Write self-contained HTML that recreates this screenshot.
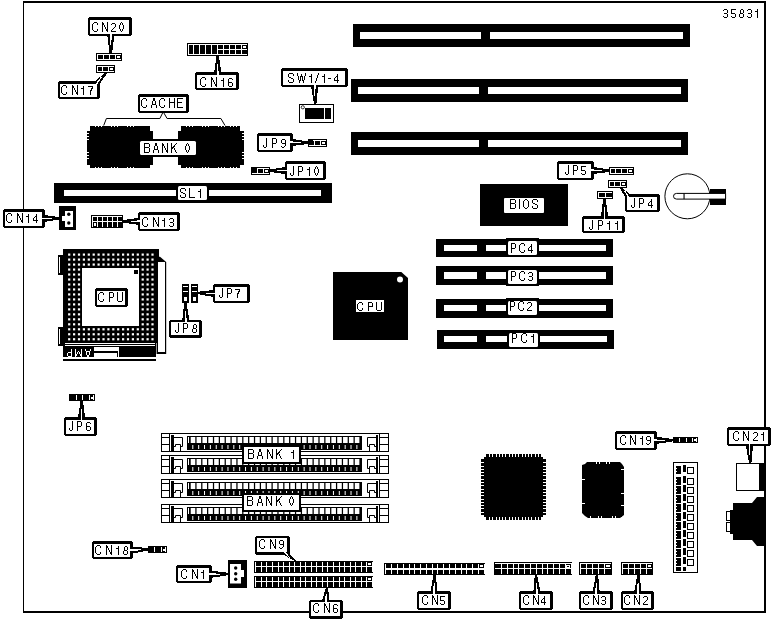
<!DOCTYPE html>
<html><head><meta charset="utf-8"><style>
html,body{margin:0;padding:0;background:#fff;overflow:hidden;}
svg{display:block;font-family:"Liberation Sans",sans-serif;}
</style></head><body>
<svg width="774" height="622" viewBox="0 0 774 622"><defs></defs><rect x="0" y="0" width="774" height="622" fill="#fff" />
<rect x="23" y="1" width="743" height="2" fill="#000" />
<rect x="23" y="1" width="1" height="612" fill="#000" />
<rect x="764" y="1" width="2" height="612" fill="#000" />
<rect x="23" y="611" width="743" height="2" fill="#000" />
<path d="M723.50,10.50 L724.50,9.50 L726.50,9.50 L727.50,10.50 L727.50,12.50 L726.50,13.50 L724.50,13.50 M726.50,13.50 L727.50,14.50 L727.50,16.50 L726.50,17.50 L724.50,17.50 L723.50,16.50 M735.50,9.50 L731.50,9.50 L731.50,13.50 L734.50,13.50 L735.50,14.50 L735.50,16.50 L734.50,17.50 L732.50,17.50 L731.50,16.50 M740.50,12.50 L740.50,10.50 L741.50,9.50 L742.50,9.50 L743.50,10.50 L743.50,12.50 L742.50,13.50 L740.50,13.50 L740.50,12.50 M740.50,13.50 L739.50,14.50 L739.50,16.50 L740.50,17.50 L742.50,17.50 L743.50,16.50 L743.50,14.50 L742.50,13.50 M747.50,10.50 L748.50,9.50 L750.50,9.50 L751.50,10.50 L751.50,12.50 L750.50,13.50 L748.50,13.50 M750.50,13.50 L751.50,14.50 L751.50,16.50 L750.50,17.50 L748.50,17.50 L747.50,16.50 M755.50,11.50 L757.50,11.50 M757.50,9.50 L757.50,17.50" fill="none" stroke="#000" stroke-width="1" stroke-linecap="square" stroke-linejoin="miter" stroke-miterlimit="1.5" shape-rendering="crispEdges"/>
<rect x="353" y="24" width="337" height="23" fill="#000" />
<rect x="360" y="32" width="323" height="7" fill="#fff" />
<rect x="481" y="32" width="9" height="7" fill="#000" />
<rect x="351" y="79" width="337" height="23" fill="#000" />
<rect x="358" y="87" width="323" height="7" fill="#fff" />
<rect x="479" y="87" width="9" height="7" fill="#000" />
<rect x="351" y="132" width="337" height="23" fill="#000" />
<rect x="358" y="140" width="323" height="7" fill="#fff" />
<rect x="479" y="140" width="9" height="7" fill="#000" />
<rect x="54" y="183" width="278" height="20" fill="#000" />
<rect x="64" y="190" width="257" height="6" fill="#fff" />
<rect x="176" y="186" width="33" height="14" fill="#000" />
<rect x="178" y="186" width="29" height="14" fill="#fff" rx="1.5"/>
<path d="M185.50,190.50 L185.50,189.50 L184.50,188.50 L181.50,188.50 L180.50,189.50 L180.50,191.50 L181.50,192.50 L184.50,193.50 L185.50,194.50 L185.50,196.50 L184.50,197.50 L181.50,197.50 L180.50,196.50 L180.50,195.50 M189.50,188.50 L189.50,197.50 L194.50,197.50 M198.50,191.50 L200.50,191.50 M200.50,189.50 L200.50,197.50" fill="none" stroke="#000" stroke-width="1" stroke-linecap="square" stroke-linejoin="miter" stroke-miterlimit="1.5" shape-rendering="crispEdges"/>
<rect x="436" y="239" width="177" height="18" fill="#000" />
<rect x="444" y="245" width="33" height="6" fill="#fff" />
<rect x="486" y="245" width="120" height="6" fill="#fff" />
<rect x="506" y="238" width="33" height="19" fill="#000" />
<rect x="508" y="241" width="29" height="14" fill="#fff" rx="1.5"/>
<path d="M511.50,252.50 L511.50,243.50 L514.50,243.50 L515.50,244.50 L515.50,247.50 L514.50,248.50 L511.50,248.50 M524.50,245.50 L524.50,244.50 L523.50,243.50 L521.50,243.50 L520.50,244.50 L519.50,245.50 L519.50,250.50 L520.50,251.50 L521.50,252.50 L523.50,252.50 L524.50,251.50 L524.50,250.50 M531.50,244.50 L531.50,252.50 M528.50,250.50 L532.50,250.50 M528.50,249.50 L528.50,248.50 L531.50,245.50" fill="none" stroke="#000" stroke-width="1" stroke-linecap="square" stroke-linejoin="miter" stroke-miterlimit="1.5" shape-rendering="crispEdges"/>
<rect x="436" y="266" width="177" height="19" fill="#000" />
<rect x="444" y="272" width="33" height="7" fill="#fff" />
<rect x="486" y="272" width="120" height="7" fill="#fff" />
<rect x="506" y="267" width="33" height="19" fill="#000" />
<rect x="508" y="270" width="29" height="14" fill="#fff" rx="1.5"/>
<path d="M511.50,280.50 L511.50,271.50 L514.50,271.50 L515.50,272.50 L515.50,275.50 L514.50,276.50 L511.50,276.50 M524.50,273.50 L524.50,272.50 L523.50,271.50 L521.50,271.50 L520.50,272.50 L519.50,273.50 L519.50,278.50 L520.50,279.50 L521.50,280.50 L523.50,280.50 L524.50,279.50 L524.50,278.50 M528.50,273.50 L529.50,272.50 L531.50,272.50 L532.50,273.50 L532.50,275.50 L531.50,276.50 L529.50,276.50 M531.50,276.50 L532.50,277.50 L532.50,279.50 L531.50,280.50 L529.50,280.50 L528.50,279.50" fill="none" stroke="#000" stroke-width="1" stroke-linecap="square" stroke-linejoin="miter" stroke-miterlimit="1.5" shape-rendering="crispEdges"/>
<rect x="436" y="299" width="177" height="19" fill="#000" />
<rect x="444" y="305" width="33" height="6" fill="#fff" />
<rect x="486" y="305" width="120" height="6" fill="#fff" />
<rect x="506" y="298" width="33" height="19" fill="#000" />
<rect x="508" y="301" width="29" height="14" fill="#fff" rx="1.5"/>
<path d="M510.50,310.50 L510.50,301.50 L513.50,301.50 L514.50,302.50 L514.50,305.50 L513.50,306.50 L510.50,306.50 M523.50,303.50 L523.50,302.50 L522.50,301.50 L520.50,301.50 L519.50,302.50 L518.50,303.50 L518.50,308.50 L519.50,309.50 L520.50,310.50 L522.50,310.50 L523.50,309.50 L523.50,308.50 M527.50,303.50 L528.50,302.50 L530.50,302.50 L531.50,303.50 L531.50,305.50 L527.50,309.50 L527.50,310.50 L531.50,310.50" fill="none" stroke="#000" stroke-width="1" stroke-linecap="square" stroke-linejoin="miter" stroke-miterlimit="1.5" shape-rendering="crispEdges"/>
<rect x="437" y="330" width="177" height="19" fill="#000" />
<rect x="444" y="336" width="33" height="6" fill="#fff" />
<rect x="486" y="336" width="121" height="6" fill="#fff" />
<rect x="507" y="330" width="33" height="19" fill="#000" />
<rect x="509" y="333" width="29" height="14" fill="#fff" rx="1.5"/>
<path d="M512.50,342.50 L512.50,333.50 L515.50,333.50 L516.50,334.50 L516.50,337.50 L515.50,338.50 L512.50,338.50 M526.50,335.50 L526.50,334.50 L525.50,333.50 L523.50,333.50 L522.50,334.50 L521.50,335.50 L521.50,340.50 L522.50,341.50 L523.50,342.50 L525.50,342.50 L526.50,341.50 L526.50,340.50 M531.50,336.50 L533.50,336.50 M533.50,334.50 L533.50,342.50" fill="none" stroke="#000" stroke-width="1" stroke-linecap="square" stroke-linejoin="miter" stroke-miterlimit="1.5" shape-rendering="crispEdges"/>
<rect x="480" y="184" width="88" height="42" fill="#000" />
<rect x="504" y="198" width="40" height="15" fill="#fff" rx="1"/>
<path d="M510.50,208.50 L510.50,199.50 L514.50,199.50 L515.50,200.50 L515.50,202.50 L514.50,203.50 L510.50,203.50 M514.50,203.50 L515.50,204.50 L515.50,207.50 L514.50,208.50 L510.50,208.50 M519.50,199.50 L519.50,208.50 M525.50,199.50 L523.50,201.50 L523.50,206.50 L525.50,208.50 L526.50,208.50 L528.50,206.50 L528.50,201.50 L526.50,199.50 L525.50,199.50 M537.50,201.50 L537.50,200.50 L536.50,199.50 L533.50,199.50 L532.50,200.50 L532.50,202.50 L533.50,203.50 L536.50,204.50 L537.50,205.50 L537.50,207.50 L536.50,208.50 L533.50,208.50 L532.50,207.50 L532.50,206.50" fill="none" stroke="#000" stroke-width="1" stroke-linecap="square" stroke-linejoin="miter" stroke-miterlimit="1.5" shape-rendering="crispEdges"/>
<polygon points="333.00,272.00 401.30,272.00 408.00,278.10 408.00,340.00 333.00,340.00" fill="#000"/>
<circle cx="400" cy="279.5" r="3" fill="#fff"/>
<rect x="356" y="300" width="28" height="12" fill="#fff" />
<path d="M362.50,304.50 L362.50,303.50 L361.50,302.50 L359.50,302.50 L358.50,303.50 L357.50,304.50 L357.50,308.50 L358.50,309.50 L359.50,310.50 L361.50,310.50 L362.50,309.50 L362.50,308.50 M368.50,310.50 L368.50,302.50 L371.50,302.50 L372.50,303.50 L372.50,306.50 L371.50,306.50 L368.50,306.50 M376.50,302.50 L376.50,309.50 L377.50,310.50 L380.50,310.50 L381.50,309.50 L381.50,302.50" fill="none" stroke="#000" stroke-width="1" stroke-linecap="square" stroke-linejoin="miter" stroke-miterlimit="1.5" shape-rendering="crispEdges"/>
<circle cx="687.4" cy="196.3" r="22.5" fill="#fff" stroke="#000" stroke-width="1"/>
<rect x="710" y="189" width="16" height="16" fill="#000" />
<path d="M676.6,193.4 L725.6,193.4 L725.6,199.1 L676.6,199.1 A3.1,2.85 0 0 1 676.6,193.4 Z" fill="#fff" stroke="#000" stroke-width="1"/>
<rect x="683.50" y="193.40" width="1.10" height="5.70" fill="#000" />
<rect x="87" y="126" width="66" height="42" fill="#000" />
<rect x="178" y="126" width="66" height="42" fill="#000" />
<rect x="150" y="139" width="31" height="18" fill="#000" />
<rect x="150" y="126" width="3" height="5" fill="#fff" />
<rect x="150" y="165" width="3" height="3" fill="#fff" />
<rect x="178" y="126" width="3" height="5" fill="#fff" />
<rect x="178" y="165" width="3" height="3" fill="#fff" />
<rect x="240" y="126" width="4" height="5" fill="#fff" />
<rect x="240" y="165" width="4" height="3" fill="#fff" />
<rect x="87" y="126" width="3" height="5" fill="#fff" />
<rect x="87" y="165" width="3" height="3" fill="#fff" />
<rect x="95" y="126" width="1" height="1" fill="#fff" />
<rect x="95" y="167" width="1" height="1" fill="#fff" />
<rect x="98" y="126" width="1" height="1" fill="#fff" />
<rect x="98" y="167" width="1" height="1" fill="#fff" />
<rect x="101" y="126" width="1" height="1" fill="#fff" />
<rect x="101" y="167" width="1" height="1" fill="#fff" />
<rect x="111" y="126" width="1" height="1" fill="#fff" />
<rect x="111" y="167" width="1" height="1" fill="#fff" />
<rect x="114" y="126" width="1" height="1" fill="#fff" />
<rect x="114" y="167" width="1" height="1" fill="#fff" />
<rect x="117" y="126" width="1" height="1" fill="#fff" />
<rect x="117" y="167" width="1" height="1" fill="#fff" />
<rect x="127" y="126" width="1" height="1" fill="#fff" />
<rect x="127" y="167" width="1" height="1" fill="#fff" />
<rect x="130" y="126" width="1" height="1" fill="#fff" />
<rect x="130" y="167" width="1" height="1" fill="#fff" />
<rect x="133" y="126" width="1" height="1" fill="#fff" />
<rect x="133" y="167" width="1" height="1" fill="#fff" />
<rect x="186" y="126" width="1" height="1" fill="#fff" />
<rect x="186" y="167" width="1" height="1" fill="#fff" />
<rect x="189" y="126" width="1" height="1" fill="#fff" />
<rect x="189" y="167" width="1" height="1" fill="#fff" />
<rect x="192" y="126" width="1" height="1" fill="#fff" />
<rect x="192" y="167" width="1" height="1" fill="#fff" />
<rect x="202" y="126" width="1" height="1" fill="#fff" />
<rect x="202" y="167" width="1" height="1" fill="#fff" />
<rect x="205" y="126" width="1" height="1" fill="#fff" />
<rect x="205" y="167" width="1" height="1" fill="#fff" />
<rect x="208" y="126" width="1" height="1" fill="#fff" />
<rect x="208" y="167" width="1" height="1" fill="#fff" />
<rect x="218" y="126" width="1" height="1" fill="#fff" />
<rect x="218" y="167" width="1" height="1" fill="#fff" />
<rect x="221" y="126" width="1" height="1" fill="#fff" />
<rect x="221" y="167" width="1" height="1" fill="#fff" />
<rect x="224" y="126" width="1" height="1" fill="#fff" />
<rect x="224" y="167" width="1" height="1" fill="#fff" />
<rect x="230" y="126" width="1" height="1" fill="#fff" />
<rect x="230" y="167" width="1" height="1" fill="#fff" />
<rect x="233" y="126" width="1" height="1" fill="#fff" />
<rect x="233" y="167" width="1" height="1" fill="#fff" />
<rect x="236" y="126" width="1" height="1" fill="#fff" />
<rect x="236" y="167" width="1" height="1" fill="#fff" />
<rect x="87" y="133" width="2" height="1" fill="#fff" />
<rect x="242" y="133" width="2" height="1" fill="#fff" />
<rect x="87" y="136" width="2" height="1" fill="#fff" />
<rect x="242" y="136" width="2" height="1" fill="#fff" />
<rect x="87" y="139" width="2" height="1" fill="#fff" />
<rect x="242" y="139" width="2" height="1" fill="#fff" />
<rect x="87" y="152" width="2" height="1" fill="#fff" />
<rect x="242" y="152" width="2" height="1" fill="#fff" />
<rect x="87" y="155" width="2" height="1" fill="#fff" />
<rect x="242" y="155" width="2" height="1" fill="#fff" />
<rect x="87" y="158" width="2" height="1" fill="#fff" />
<rect x="242" y="158" width="2" height="1" fill="#fff" />
<rect x="140" y="141" width="56" height="14" fill="#fff" rx="1.5"/>
<path d="M144.50,152.50 L144.50,143.50 L148.50,143.50 L149.50,144.50 L149.50,146.50 L148.50,147.50 L144.50,147.50 M148.50,147.50 L149.50,148.50 L149.50,151.50 L148.50,152.50 L144.50,152.50 M153.50,152.50 L155.50,143.50 L156.50,143.50 L158.50,152.50 M154.50,149.50 L157.50,149.50 M162.50,152.50 L162.50,143.50 L167.50,152.50 L167.50,143.50 M171.50,143.50 L171.50,152.50 M176.50,143.50 L171.50,149.50 M173.50,147.50 L176.50,152.50 M187.50,143.50 L185.50,146.50 L185.50,149.50 L187.50,152.50 L189.50,149.50 L189.50,146.50 L187.50,143.50" fill="none" stroke="#000" stroke-width="1" stroke-linecap="square" stroke-linejoin="miter" stroke-miterlimit="1.5" shape-rendering="crispEdges"/>
<polyline points="103.7,125.5 106.4,118.5 159.9,118.5 163.2,111.8 167.1,118.5 220.9,118.5 225,125.5" fill="none" stroke="#000" stroke-width="1"/>
<rect x="96.5" y="53.5" width="25" height="7" rx="0" fill="#fff" stroke="#000" stroke-width="1"/>
<rect x="98" y="55" width="5" height="4" fill="#000" />
<rect x="104" y="55" width="5" height="4" fill="#000" />
<rect x="110" y="55" width="5" height="4" fill="#000" />
<rect x="116.5" y="55.5" width="4" height="3" rx="0" fill="#fff" stroke="#000" stroke-width="1"/>
<rect x="96.5" y="65.5" width="18" height="7" rx="0" fill="#fff" stroke="#000" stroke-width="1"/>
<rect x="98" y="67" width="4" height="4" fill="#000" />
<rect x="103" y="67" width="5" height="4" fill="#000" />
<rect x="109.5" y="67.5" width="4" height="3" rx="0" fill="#fff" stroke="#000" stroke-width="1"/>
<rect x="308.5" y="139.5" width="18" height="7" rx="0" fill="#fff" stroke="#000" stroke-width="1"/>
<rect x="310" y="141" width="4" height="4" fill="#000" />
<rect x="315" y="141" width="5" height="4" fill="#000" />
<rect x="321.5" y="141.5" width="4" height="3" rx="0" fill="#fff" stroke="#000" stroke-width="1"/>
<rect x="309" y="140" width="4" height="5" fill="#000" />
<rect x="251.5" y="167.5" width="18" height="7" rx="0" fill="#fff" stroke="#000" stroke-width="1"/>
<rect x="253" y="169" width="4" height="4" fill="#000" />
<rect x="258" y="169" width="5" height="4" fill="#000" />
<rect x="264.5" y="169.5" width="4" height="3" rx="0" fill="#fff" stroke="#000" stroke-width="1"/>
<rect x="252" y="168" width="5" height="5" fill="#000" />
<rect x="609.5" y="167.5" width="24" height="7" rx="0" fill="#fff" stroke="#000" stroke-width="1"/>
<rect x="611" y="169" width="4" height="4" fill="#000" />
<rect x="616" y="169" width="5" height="4" fill="#000" />
<rect x="622" y="169" width="5" height="4" fill="#000" />
<rect x="628.5" y="169.5" width="4" height="3" rx="0" fill="#fff" stroke="#000" stroke-width="1"/>
<rect x="608.5" y="180.5" width="18" height="7" rx="0" fill="#fff" stroke="#000" stroke-width="1"/>
<rect x="610" y="182" width="4" height="4" fill="#000" />
<rect x="615" y="182" width="5" height="4" fill="#000" />
<rect x="621.5" y="182.5" width="4" height="3" rx="0" fill="#fff" stroke="#000" stroke-width="1"/>
<rect x="597.5" y="191.5" width="15" height="7" rx="0" fill="#fff" stroke="#000" stroke-width="1"/>
<rect x="599" y="193" width="6" height="4" fill="#000" />
<rect x="606" y="193" width="6" height="4" fill="#000" />
<rect x="182" y="284" width="7" height="19" fill="#000" />
<rect x="183" y="286" width="5" height="1" fill="#fff" />
<rect x="183" y="291" width="5" height="1" fill="#fff" />
<rect x="184" y="297" width="3" height="4" fill="#fff" />
<rect x="191" y="284" width="7" height="19" fill="#000" />
<rect x="192" y="286" width="5" height="1" fill="#fff" />
<rect x="192" y="291" width="5" height="1" fill="#fff" />
<rect x="193" y="297" width="3" height="4" fill="#fff" />
<rect x="69" y="394" width="26" height="7" fill="#000" />
<rect x="76" y="395" width="1" height="5" fill="#fff" />
<rect x="82" y="395" width="1" height="5" fill="#fff" />
<rect x="89" y="395" width="1" height="5" fill="#fff" />
<rect x="93" y="395" width="1" height="5" fill="#fff" />
<rect x="91" y="397" width="2" height="2" fill="#fff" />
<rect x="148" y="546" width="19" height="7" fill="#000" />
<rect x="154" y="547" width="1" height="5" fill="#fff" />
<rect x="161" y="547" width="1" height="5" fill="#fff" />
<rect x="165" y="547" width="1" height="5" fill="#fff" />
<rect x="163" y="549" width="2" height="2" fill="#fff" />
<rect x="673" y="437" width="25" height="6" fill="#000" />
<rect x="679" y="438" width="1" height="4" fill="#fff" />
<rect x="686" y="438" width="1" height="4" fill="#fff" />
<rect x="692" y="438" width="1" height="4" fill="#fff" />
<rect x="696" y="438" width="1" height="4" fill="#fff" />
<rect x="694" y="439" width="2" height="2" fill="#fff" />
<rect x="187.5" y="43.5" width="60" height="12" rx="0" fill="#fff" stroke="#000" stroke-width="1"/>
<rect x="189" y="45" width="4" height="9" fill="#000" />
<rect x="194" y="45" width="5" height="9" fill="#000" />
<rect x="200" y="45" width="5" height="9" fill="#000" />
<rect x="206" y="45" width="5" height="9" fill="#000" />
<rect x="212" y="45" width="5" height="9" fill="#000" />
<rect x="218" y="45" width="5" height="4" fill="#000" />
<rect x="218" y="50" width="5" height="4" fill="#000" />
<rect x="224" y="45" width="5" height="4" fill="#000" />
<rect x="224" y="50" width="5" height="4" fill="#000" />
<rect x="230" y="45" width="5" height="4" fill="#000" />
<rect x="230" y="50" width="5" height="4" fill="#000" />
<rect x="236" y="45" width="5" height="4" fill="#000" />
<rect x="236" y="50" width="5" height="4" fill="#000" />
<rect x="242.5" y="45.5" width="4" height="3" rx="0" fill="#fff" stroke="#000" stroke-width="1"/>
<rect x="242" y="50" width="5" height="4" fill="#000" />
<rect x="91.5" y="215.5" width="31" height="12" rx="0" fill="#fff" stroke="#000" stroke-width="1"/>
<rect x="93" y="217" width="4" height="4" fill="#000" />
<rect x="93.5" y="222.5" width="3" height="4" rx="0" fill="#fff" stroke="#000" stroke-width="1"/>
<rect x="98" y="217" width="4" height="4" fill="#000" />
<rect x="98" y="222" width="4" height="5" fill="#000" />
<rect x="103" y="217" width="4" height="4" fill="#000" />
<rect x="103" y="222" width="4" height="5" fill="#000" />
<rect x="108" y="217" width="4" height="4" fill="#000" />
<rect x="108" y="222" width="4" height="5" fill="#000" />
<rect x="113" y="217" width="4" height="4" fill="#000" />
<rect x="113" y="222" width="4" height="5" fill="#000" />
<rect x="118" y="217" width="4" height="4" fill="#000" />
<rect x="118" y="222" width="4" height="5" fill="#000" />
<rect x="579.5" y="562.5" width="32" height="12" rx="0" fill="#fff" stroke="#000" stroke-width="1"/>
<rect x="581" y="564" width="5" height="4" fill="#000" />
<rect x="581" y="569" width="5" height="5" fill="#000" />
<rect x="587" y="564" width="5" height="4" fill="#000" />
<rect x="587" y="569" width="5" height="5" fill="#000" />
<rect x="593" y="564" width="5" height="4" fill="#000" />
<rect x="593" y="569" width="5" height="5" fill="#000" />
<rect x="599" y="564" width="5" height="4" fill="#000" />
<rect x="599" y="569" width="5" height="5" fill="#000" />
<rect x="605.5" y="564.5" width="5" height="3" rx="0" fill="#fff" stroke="#000" stroke-width="1"/>
<rect x="605" y="569" width="6" height="5" fill="#000" />
<rect x="621.5" y="562.5" width="31" height="12" rx="0" fill="#fff" stroke="#000" stroke-width="1"/>
<rect x="623" y="564" width="5" height="4" fill="#000" />
<rect x="623" y="569" width="5" height="5" fill="#000" />
<rect x="629" y="564" width="5" height="4" fill="#000" />
<rect x="629" y="569" width="5" height="5" fill="#000" />
<rect x="635" y="564" width="5" height="4" fill="#000" />
<rect x="635" y="569" width="5" height="5" fill="#000" />
<rect x="641" y="564" width="5" height="4" fill="#000" />
<rect x="641" y="569" width="5" height="5" fill="#000" />
<rect x="647.5" y="564.5" width="4" height="3" rx="0" fill="#fff" stroke="#000" stroke-width="1"/>
<rect x="647" y="569" width="5" height="5" fill="#000" />
<rect x="384" y="563" width="101" height="12" fill="#000" />
<rect x="385" y="564" width="1" height="10" fill="#fff" />
<rect x="391" y="564" width="1" height="10" fill="#fff" />
<rect x="397" y="564" width="1" height="10" fill="#fff" />
<rect x="403" y="564" width="1" height="10" fill="#fff" />
<rect x="409" y="564" width="1" height="10" fill="#fff" />
<rect x="414" y="564" width="1" height="10" fill="#fff" />
<rect x="420" y="564" width="1" height="10" fill="#fff" />
<rect x="426" y="564" width="1" height="10" fill="#fff" />
<rect x="432" y="564" width="1" height="10" fill="#fff" />
<rect x="437" y="564" width="1" height="10" fill="#fff" />
<rect x="443" y="564" width="1" height="10" fill="#fff" />
<rect x="449" y="564" width="1" height="10" fill="#fff" />
<rect x="455" y="564" width="1" height="10" fill="#fff" />
<rect x="461" y="564" width="1" height="10" fill="#fff" />
<rect x="466" y="564" width="1" height="10" fill="#fff" />
<rect x="472" y="564" width="1" height="10" fill="#fff" />
<rect x="478" y="564" width="1" height="10" fill="#fff" />
<rect x="484" y="564" width="1" height="10" fill="#fff" />
<rect x="385" y="568" width="99" height="2" fill="#fff" />
<rect x="480" y="565" width="3" height="2" fill="#fff" />
<rect x="494" y="562" width="78" height="13" fill="#000" />
<rect x="495" y="563" width="76" height="1" fill="#fff" />
<rect x="501" y="563" width="1" height="11" fill="#fff" />
<rect x="507" y="563" width="1" height="11" fill="#fff" />
<rect x="513" y="563" width="1" height="11" fill="#fff" />
<rect x="518" y="563" width="1" height="11" fill="#fff" />
<rect x="524" y="563" width="1" height="11" fill="#fff" />
<rect x="530" y="563" width="1" height="11" fill="#fff" />
<rect x="536" y="563" width="1" height="11" fill="#fff" />
<rect x="542" y="563" width="1" height="11" fill="#fff" />
<rect x="547" y="563" width="1" height="11" fill="#fff" />
<rect x="553" y="563" width="1" height="11" fill="#fff" />
<rect x="559" y="563" width="1" height="11" fill="#fff" />
<rect x="565" y="563" width="1" height="11" fill="#fff" />
<rect x="571" y="563" width="1" height="11" fill="#fff" />
<rect x="495" y="568" width="76" height="1" fill="#fff" />
<rect x="566" y="565" width="4" height="3" fill="#fff" />
<rect x="567" y="566" width="2" height="1" fill="#000" />
<rect x="254" y="561" width="119" height="12" fill="#000" />
<rect x="255" y="562" width="1" height="10" fill="#fff" />
<rect x="261" y="562" width="1" height="10" fill="#fff" />
<rect x="266" y="562" width="1" height="10" fill="#fff" />
<rect x="272" y="562" width="1" height="10" fill="#fff" />
<rect x="278" y="562" width="1" height="10" fill="#fff" />
<rect x="283" y="562" width="1" height="10" fill="#fff" />
<rect x="289" y="562" width="1" height="10" fill="#fff" />
<rect x="294" y="562" width="1" height="10" fill="#fff" />
<rect x="300" y="562" width="1" height="10" fill="#fff" />
<rect x="305" y="562" width="1" height="10" fill="#fff" />
<rect x="311" y="562" width="1" height="10" fill="#fff" />
<rect x="316" y="562" width="1" height="10" fill="#fff" />
<rect x="322" y="562" width="1" height="10" fill="#fff" />
<rect x="327" y="562" width="1" height="10" fill="#fff" />
<rect x="333" y="562" width="1" height="10" fill="#fff" />
<rect x="339" y="562" width="1" height="10" fill="#fff" />
<rect x="344" y="562" width="1" height="10" fill="#fff" />
<rect x="350" y="562" width="1" height="10" fill="#fff" />
<rect x="355" y="562" width="1" height="10" fill="#fff" />
<rect x="361" y="562" width="1" height="10" fill="#fff" />
<rect x="366" y="562" width="1" height="10" fill="#fff" />
<rect x="372" y="562" width="1" height="10" fill="#fff" />
<rect x="255" y="566" width="117" height="1" fill="#fff" />
<rect x="368" y="563" width="3" height="2" fill="#fff" />
<rect x="254" y="576" width="119" height="12" fill="#000" />
<rect x="255" y="577" width="1" height="10" fill="#fff" />
<rect x="261" y="577" width="1" height="10" fill="#fff" />
<rect x="266" y="577" width="1" height="10" fill="#fff" />
<rect x="272" y="577" width="1" height="10" fill="#fff" />
<rect x="278" y="577" width="1" height="10" fill="#fff" />
<rect x="283" y="577" width="1" height="10" fill="#fff" />
<rect x="289" y="577" width="1" height="10" fill="#fff" />
<rect x="294" y="577" width="1" height="10" fill="#fff" />
<rect x="300" y="577" width="1" height="10" fill="#fff" />
<rect x="305" y="577" width="1" height="10" fill="#fff" />
<rect x="311" y="577" width="1" height="10" fill="#fff" />
<rect x="316" y="577" width="1" height="10" fill="#fff" />
<rect x="322" y="577" width="1" height="10" fill="#fff" />
<rect x="327" y="577" width="1" height="10" fill="#fff" />
<rect x="333" y="577" width="1" height="10" fill="#fff" />
<rect x="339" y="577" width="1" height="10" fill="#fff" />
<rect x="344" y="577" width="1" height="10" fill="#fff" />
<rect x="350" y="577" width="1" height="10" fill="#fff" />
<rect x="355" y="577" width="1" height="10" fill="#fff" />
<rect x="361" y="577" width="1" height="10" fill="#fff" />
<rect x="366" y="577" width="1" height="10" fill="#fff" />
<rect x="372" y="577" width="1" height="10" fill="#fff" />
<rect x="255" y="581" width="117" height="1" fill="#fff" />
<rect x="368" y="578" width="3" height="2" fill="#fff" />
<rect x="299.5" y="104.5" width="34" height="18" rx="0" fill="#fff" stroke="#000" stroke-width="1"/>
<rect x="305" y="108" width="19" height="11" fill="#000" />
<rect x="325" y="108" width="6" height="11" fill="#000" />
<circle cx="302.8" cy="107.3" r="1.6" fill="#fff" stroke="#000" stroke-width="0.8"/>
<rect x="59" y="206" width="17" height="24" fill="#000" />
<polygon points="65.00,211.00 73.00,211.00 73.00,227.00 65.00,227.00 65.00,221.00 62.00,221.00 62.00,216.00 65.00,216.00" fill="#fff"/>
<circle cx="68.8" cy="214.2" r="1.7" fill="#000"/><circle cx="68.8" cy="223" r="1.7" fill="#000"/>
<rect x="228" y="560" width="19" height="28" fill="#000" />
<polygon points="230.00,564.00 241.00,564.00 241.00,570.00 244.00,570.00 244.00,577.00 241.00,577.00 241.00,583.50 230.00,583.50" fill="#fff"/>
<circle cx="235.7" cy="568" r="1.7" fill="#000"/><circle cx="235.7" cy="573.7" r="1.7" fill="#000"/><circle cx="235.7" cy="579.3" r="1.7" fill="#000"/>
<rect x="58" y="255" width="6" height="20" fill="#000" />
<rect x="59" y="257" width="1" height="16" fill="#fff" />
<rect x="58" y="327" width="6" height="19" fill="#000" />
<rect x="59" y="329" width="1" height="15" fill="#fff" />
<rect x="63" y="249" width="96" height="94" fill="#000" />
<rect x="82" y="268" width="57" height="58" fill="#fff" />
<rect x="68.10" y="253.50" width="2.20" height="2.20" fill="#fff" />
<rect x="73.00" y="253.50" width="2.20" height="2.20" fill="#fff" />
<rect x="77.90" y="253.50" width="2.20" height="2.20" fill="#fff" />
<rect x="82.80" y="253.50" width="2.20" height="2.20" fill="#fff" />
<rect x="87.70" y="253.50" width="2.20" height="2.20" fill="#fff" />
<rect x="92.60" y="253.50" width="2.20" height="2.20" fill="#fff" />
<rect x="97.50" y="253.50" width="2.20" height="2.20" fill="#fff" />
<rect x="102.40" y="253.50" width="2.20" height="2.20" fill="#fff" />
<rect x="107.30" y="253.50" width="2.20" height="2.20" fill="#fff" />
<rect x="112.20" y="253.50" width="2.20" height="2.20" fill="#fff" />
<rect x="117.10" y="253.50" width="2.20" height="2.20" fill="#fff" />
<rect x="122.00" y="253.50" width="2.20" height="2.20" fill="#fff" />
<rect x="126.90" y="253.50" width="2.20" height="2.20" fill="#fff" />
<rect x="131.80" y="253.50" width="2.20" height="2.20" fill="#fff" />
<rect x="136.70" y="253.50" width="2.20" height="2.20" fill="#fff" />
<rect x="141.60" y="253.50" width="2.20" height="2.20" fill="#fff" />
<rect x="146.50" y="253.50" width="2.20" height="2.20" fill="#fff" />
<rect x="151.40" y="253.50" width="2.20" height="2.20" fill="#fff" />
<rect x="68.10" y="258.48" width="2.20" height="2.20" fill="#fff" />
<rect x="73.00" y="258.48" width="2.20" height="2.20" fill="#fff" />
<rect x="77.90" y="258.48" width="2.20" height="2.20" fill="#fff" />
<rect x="82.80" y="258.48" width="2.20" height="2.20" fill="#fff" />
<rect x="87.70" y="258.48" width="2.20" height="2.20" fill="#fff" />
<rect x="92.60" y="258.48" width="2.20" height="2.20" fill="#fff" />
<rect x="97.50" y="258.48" width="2.20" height="2.20" fill="#fff" />
<rect x="102.40" y="258.48" width="2.20" height="2.20" fill="#fff" />
<rect x="107.30" y="258.48" width="2.20" height="2.20" fill="#fff" />
<rect x="112.20" y="258.48" width="2.20" height="2.20" fill="#fff" />
<rect x="117.10" y="258.48" width="2.20" height="2.20" fill="#fff" />
<rect x="122.00" y="258.48" width="2.20" height="2.20" fill="#fff" />
<rect x="126.90" y="258.48" width="2.20" height="2.20" fill="#fff" />
<rect x="131.80" y="258.48" width="2.20" height="2.20" fill="#fff" />
<rect x="136.70" y="258.48" width="2.20" height="2.20" fill="#fff" />
<rect x="141.60" y="258.48" width="2.20" height="2.20" fill="#fff" />
<rect x="146.50" y="258.48" width="2.20" height="2.20" fill="#fff" />
<rect x="151.40" y="258.48" width="2.20" height="2.20" fill="#fff" />
<rect x="68.10" y="263.46" width="2.20" height="2.20" fill="#fff" />
<rect x="73.00" y="263.46" width="2.20" height="2.20" fill="#fff" />
<rect x="77.90" y="263.46" width="2.20" height="2.20" fill="#fff" />
<rect x="82.80" y="263.46" width="2.20" height="2.20" fill="#fff" />
<rect x="87.70" y="263.46" width="2.20" height="2.20" fill="#fff" />
<rect x="92.60" y="263.46" width="2.20" height="2.20" fill="#fff" />
<rect x="97.50" y="263.46" width="2.20" height="2.20" fill="#fff" />
<rect x="102.40" y="263.46" width="2.20" height="2.20" fill="#fff" />
<rect x="107.30" y="263.46" width="2.20" height="2.20" fill="#fff" />
<rect x="112.20" y="263.46" width="2.20" height="2.20" fill="#fff" />
<rect x="117.10" y="263.46" width="2.20" height="2.20" fill="#fff" />
<rect x="122.00" y="263.46" width="2.20" height="2.20" fill="#fff" />
<rect x="126.90" y="263.46" width="2.20" height="2.20" fill="#fff" />
<rect x="131.80" y="263.46" width="2.20" height="2.20" fill="#fff" />
<rect x="136.70" y="263.46" width="2.20" height="2.20" fill="#fff" />
<rect x="141.60" y="263.46" width="2.20" height="2.20" fill="#fff" />
<rect x="146.50" y="263.46" width="2.20" height="2.20" fill="#fff" />
<rect x="151.40" y="263.46" width="2.20" height="2.20" fill="#fff" />
<rect x="68.10" y="268.44" width="2.20" height="2.20" fill="#fff" />
<rect x="73.00" y="268.44" width="2.20" height="2.20" fill="#fff" />
<rect x="77.90" y="268.44" width="2.20" height="2.20" fill="#fff" />
<rect x="141.60" y="268.44" width="2.20" height="2.20" fill="#fff" />
<rect x="146.50" y="268.44" width="2.20" height="2.20" fill="#fff" />
<rect x="151.40" y="268.44" width="2.20" height="2.20" fill="#fff" />
<rect x="68.10" y="273.42" width="2.20" height="2.20" fill="#fff" />
<rect x="73.00" y="273.42" width="2.20" height="2.20" fill="#fff" />
<rect x="77.90" y="273.42" width="2.20" height="2.20" fill="#fff" />
<rect x="141.60" y="273.42" width="2.20" height="2.20" fill="#fff" />
<rect x="146.50" y="273.42" width="2.20" height="2.20" fill="#fff" />
<rect x="151.40" y="273.42" width="2.20" height="2.20" fill="#fff" />
<rect x="68.10" y="278.40" width="2.20" height="2.20" fill="#fff" />
<rect x="73.00" y="278.40" width="2.20" height="2.20" fill="#fff" />
<rect x="77.90" y="278.40" width="2.20" height="2.20" fill="#fff" />
<rect x="141.60" y="278.40" width="2.20" height="2.20" fill="#fff" />
<rect x="146.50" y="278.40" width="2.20" height="2.20" fill="#fff" />
<rect x="151.40" y="278.40" width="2.20" height="2.20" fill="#fff" />
<rect x="68.10" y="283.38" width="2.20" height="2.20" fill="#fff" />
<rect x="73.00" y="283.38" width="2.20" height="2.20" fill="#fff" />
<rect x="77.90" y="283.38" width="2.20" height="2.20" fill="#fff" />
<rect x="141.60" y="283.38" width="2.20" height="2.20" fill="#fff" />
<rect x="146.50" y="283.38" width="2.20" height="2.20" fill="#fff" />
<rect x="151.40" y="283.38" width="2.20" height="2.20" fill="#fff" />
<rect x="68.10" y="288.36" width="2.20" height="2.20" fill="#fff" />
<rect x="73.00" y="288.36" width="2.20" height="2.20" fill="#fff" />
<rect x="77.90" y="288.36" width="2.20" height="2.20" fill="#fff" />
<rect x="141.60" y="288.36" width="2.20" height="2.20" fill="#fff" />
<rect x="146.50" y="288.36" width="2.20" height="2.20" fill="#fff" />
<rect x="151.40" y="288.36" width="2.20" height="2.20" fill="#fff" />
<rect x="68.10" y="293.34" width="2.20" height="2.20" fill="#fff" />
<rect x="73.00" y="293.34" width="2.20" height="2.20" fill="#fff" />
<rect x="77.90" y="293.34" width="2.20" height="2.20" fill="#fff" />
<rect x="141.60" y="293.34" width="2.20" height="2.20" fill="#fff" />
<rect x="146.50" y="293.34" width="2.20" height="2.20" fill="#fff" />
<rect x="151.40" y="293.34" width="2.20" height="2.20" fill="#fff" />
<rect x="68.10" y="298.32" width="2.20" height="2.20" fill="#fff" />
<rect x="73.00" y="298.32" width="2.20" height="2.20" fill="#fff" />
<rect x="77.90" y="298.32" width="2.20" height="2.20" fill="#fff" />
<rect x="141.60" y="298.32" width="2.20" height="2.20" fill="#fff" />
<rect x="146.50" y="298.32" width="2.20" height="2.20" fill="#fff" />
<rect x="151.40" y="298.32" width="2.20" height="2.20" fill="#fff" />
<rect x="68.10" y="303.30" width="2.20" height="2.20" fill="#fff" />
<rect x="73.00" y="303.30" width="2.20" height="2.20" fill="#fff" />
<rect x="77.90" y="303.30" width="2.20" height="2.20" fill="#fff" />
<rect x="141.60" y="303.30" width="2.20" height="2.20" fill="#fff" />
<rect x="146.50" y="303.30" width="2.20" height="2.20" fill="#fff" />
<rect x="151.40" y="303.30" width="2.20" height="2.20" fill="#fff" />
<rect x="68.10" y="308.28" width="2.20" height="2.20" fill="#fff" />
<rect x="73.00" y="308.28" width="2.20" height="2.20" fill="#fff" />
<rect x="77.90" y="308.28" width="2.20" height="2.20" fill="#fff" />
<rect x="141.60" y="308.28" width="2.20" height="2.20" fill="#fff" />
<rect x="146.50" y="308.28" width="2.20" height="2.20" fill="#fff" />
<rect x="151.40" y="308.28" width="2.20" height="2.20" fill="#fff" />
<rect x="68.10" y="313.26" width="2.20" height="2.20" fill="#fff" />
<rect x="73.00" y="313.26" width="2.20" height="2.20" fill="#fff" />
<rect x="77.90" y="313.26" width="2.20" height="2.20" fill="#fff" />
<rect x="141.60" y="313.26" width="2.20" height="2.20" fill="#fff" />
<rect x="146.50" y="313.26" width="2.20" height="2.20" fill="#fff" />
<rect x="151.40" y="313.26" width="2.20" height="2.20" fill="#fff" />
<rect x="68.10" y="318.24" width="2.20" height="2.20" fill="#fff" />
<rect x="73.00" y="318.24" width="2.20" height="2.20" fill="#fff" />
<rect x="77.90" y="318.24" width="2.20" height="2.20" fill="#fff" />
<rect x="141.60" y="318.24" width="2.20" height="2.20" fill="#fff" />
<rect x="146.50" y="318.24" width="2.20" height="2.20" fill="#fff" />
<rect x="151.40" y="318.24" width="2.20" height="2.20" fill="#fff" />
<rect x="68.10" y="323.22" width="2.20" height="2.20" fill="#fff" />
<rect x="73.00" y="323.22" width="2.20" height="2.20" fill="#fff" />
<rect x="77.90" y="323.22" width="2.20" height="2.20" fill="#fff" />
<rect x="141.60" y="323.22" width="2.20" height="2.20" fill="#fff" />
<rect x="146.50" y="323.22" width="2.20" height="2.20" fill="#fff" />
<rect x="151.40" y="323.22" width="2.20" height="2.20" fill="#fff" />
<rect x="68.10" y="328.20" width="2.20" height="2.20" fill="#fff" />
<rect x="73.00" y="328.20" width="2.20" height="2.20" fill="#fff" />
<rect x="77.90" y="328.20" width="2.20" height="2.20" fill="#fff" />
<rect x="82.80" y="328.20" width="2.20" height="2.20" fill="#fff" />
<rect x="87.70" y="328.20" width="2.20" height="2.20" fill="#fff" />
<rect x="92.60" y="328.20" width="2.20" height="2.20" fill="#fff" />
<rect x="97.50" y="328.20" width="2.20" height="2.20" fill="#fff" />
<rect x="102.40" y="328.20" width="2.20" height="2.20" fill="#fff" />
<rect x="107.30" y="328.20" width="2.20" height="2.20" fill="#fff" />
<rect x="112.20" y="328.20" width="2.20" height="2.20" fill="#fff" />
<rect x="117.10" y="328.20" width="2.20" height="2.20" fill="#fff" />
<rect x="122.00" y="328.20" width="2.20" height="2.20" fill="#fff" />
<rect x="126.90" y="328.20" width="2.20" height="2.20" fill="#fff" />
<rect x="131.80" y="328.20" width="2.20" height="2.20" fill="#fff" />
<rect x="136.70" y="328.20" width="2.20" height="2.20" fill="#fff" />
<rect x="141.60" y="328.20" width="2.20" height="2.20" fill="#fff" />
<rect x="146.50" y="328.20" width="2.20" height="2.20" fill="#fff" />
<rect x="151.40" y="328.20" width="2.20" height="2.20" fill="#fff" />
<rect x="68.10" y="333.18" width="2.20" height="2.20" fill="#fff" />
<rect x="73.00" y="333.18" width="2.20" height="2.20" fill="#fff" />
<rect x="77.90" y="333.18" width="2.20" height="2.20" fill="#fff" />
<rect x="82.80" y="333.18" width="2.20" height="2.20" fill="#fff" />
<rect x="87.70" y="333.18" width="2.20" height="2.20" fill="#fff" />
<rect x="92.60" y="333.18" width="2.20" height="2.20" fill="#fff" />
<rect x="97.50" y="333.18" width="2.20" height="2.20" fill="#fff" />
<rect x="102.40" y="333.18" width="2.20" height="2.20" fill="#fff" />
<rect x="107.30" y="333.18" width="2.20" height="2.20" fill="#fff" />
<rect x="112.20" y="333.18" width="2.20" height="2.20" fill="#fff" />
<rect x="117.10" y="333.18" width="2.20" height="2.20" fill="#fff" />
<rect x="122.00" y="333.18" width="2.20" height="2.20" fill="#fff" />
<rect x="126.90" y="333.18" width="2.20" height="2.20" fill="#fff" />
<rect x="131.80" y="333.18" width="2.20" height="2.20" fill="#fff" />
<rect x="136.70" y="333.18" width="2.20" height="2.20" fill="#fff" />
<rect x="141.60" y="333.18" width="2.20" height="2.20" fill="#fff" />
<rect x="146.50" y="333.18" width="2.20" height="2.20" fill="#fff" />
<rect x="151.40" y="333.18" width="2.20" height="2.20" fill="#fff" />
<rect x="68.10" y="338.16" width="2.20" height="2.20" fill="#fff" />
<rect x="73.00" y="338.16" width="2.20" height="2.20" fill="#fff" />
<rect x="77.90" y="338.16" width="2.20" height="2.20" fill="#fff" />
<rect x="82.80" y="338.16" width="2.20" height="2.20" fill="#fff" />
<rect x="87.70" y="338.16" width="2.20" height="2.20" fill="#fff" />
<rect x="92.60" y="338.16" width="2.20" height="2.20" fill="#fff" />
<rect x="97.50" y="338.16" width="2.20" height="2.20" fill="#fff" />
<rect x="102.40" y="338.16" width="2.20" height="2.20" fill="#fff" />
<rect x="107.30" y="338.16" width="2.20" height="2.20" fill="#fff" />
<rect x="112.20" y="338.16" width="2.20" height="2.20" fill="#fff" />
<rect x="117.10" y="338.16" width="2.20" height="2.20" fill="#fff" />
<rect x="122.00" y="338.16" width="2.20" height="2.20" fill="#fff" />
<rect x="126.90" y="338.16" width="2.20" height="2.20" fill="#fff" />
<rect x="131.80" y="338.16" width="2.20" height="2.20" fill="#fff" />
<rect x="136.70" y="338.16" width="2.20" height="2.20" fill="#fff" />
<rect x="141.60" y="338.16" width="2.20" height="2.20" fill="#fff" />
<rect x="146.50" y="338.16" width="2.20" height="2.20" fill="#fff" />
<rect x="151.40" y="338.16" width="2.20" height="2.20" fill="#fff" />
<rect x="134" y="270" width="4" height="4" fill="#000" />
<polygon points="156.60,256.70 160.00,256.70 166.20,262.00 166.20,353.90 156.60,353.90" fill="#000"/>
<rect x="158" y="262" width="7" height="90" fill="#fff" />
<rect x="63" y="342" width="93" height="15" fill="#000" />
<rect x="65" y="343" width="90" height="1" fill="#fff" />
<rect x="65" y="345" width="90" height="1" fill="#fff" />
<rect x="94" y="347" width="25" height="10" fill="#fff" />
<rect x="94" y="351" width="23" height="2" fill="#000" />
<rect x="117" y="351" width="1" height="6" fill="#000" />
<path d="M71.50,349.50 L71.50,356.50 L68.50,356.50 L67.50,355.50 L67.50,353.50 L68.50,352.50 L71.50,352.50 M81.50,349.50 L81.50,356.50 L78.50,351.50 L75.50,356.50 L75.50,349.50 M90.50,349.50 L88.50,356.50 L87.50,356.50 L85.50,349.50 M89.50,351.50 L86.50,351.50" fill="none" stroke="#fff" stroke-width="1" stroke-linecap="square" stroke-linejoin="miter" stroke-miterlimit="1.5" shape-rendering="crispEdges"/>
<rect x="63" y="359" width="93" height="2" fill="#000" />
<rect x="95" y="288" width="33" height="19" rx="3" fill="#000" shape-rendering="crispEdges"/>
<rect x="97" y="291" width="28" height="14" rx="1" fill="#fff" shape-rendering="crispEdges"/>
<path d="M103.50,294.50 L103.50,293.50 L102.50,292.50 L100.50,292.50 L99.50,293.50 L98.50,294.50 L98.50,299.50 L99.50,300.50 L100.50,301.50 L102.50,301.50 L103.50,300.50 L103.50,299.50 M109.50,301.50 L109.50,292.50 L112.50,292.50 L113.50,293.50 L113.50,296.50 L112.50,297.50 L109.50,297.50 M117.50,292.50 L117.50,300.50 L118.50,301.50 L121.50,301.50 L122.50,300.50 L122.50,292.50" fill="none" stroke="#000" stroke-width="1" stroke-linecap="square" stroke-linejoin="miter" stroke-miterlimit="1.5" shape-rendering="crispEdges"/>
<rect x="161.5" y="433.5" width="227" height="18" rx="0" fill="#fff" stroke="#000" stroke-width="1"/>
<rect x="161" y="437" width="9" height="1" fill="#000" />
<rect x="161" y="444" width="9" height="1" fill="#000" />
<rect x="169" y="433" width="1" height="19" fill="#000" />
<rect x="171" y="435" width="3" height="17" fill="#000" />
<polyline points="174,437.5 182.5,437.5 182.5,446.5 180.5,446.5 180.5,444.5 175.5,444.5 175.5,446.5 174,446.5" fill="none" stroke="#000" stroke-width="1"/>
<rect x="180" y="446" width="1" height="6" fill="#000" />
<rect x="380" y="437" width="9" height="1" fill="#000" />
<rect x="380" y="444" width="9" height="1" fill="#000" />
<rect x="379" y="433" width="1" height="19" fill="#000" />
<rect x="376" y="435" width="2" height="17" fill="#000" />
<polyline points="376,437.5 367.5,437.5 367.5,446.5 369.5,446.5 369.5,444.5 374.5,444.5 374.5,446.5 376,446.5" fill="none" stroke="#000" stroke-width="1"/>
<rect x="369" y="446" width="1" height="6" fill="#000" />
<rect x="187" y="436" width="175" height="14" fill="#000" />
<rect x="188" y="437" width="1" height="6" fill="#fff" />
<rect x="190.70" y="437.00" width="4.60" height="6.00" fill="#fff" />
<rect x="192.30" y="445.00" width="1.00" height="4.00" fill="#fff" />
<rect x="196.56" y="437.00" width="4.60" height="6.00" fill="#fff" />
<rect x="198.16" y="445.00" width="1.00" height="4.00" fill="#fff" />
<rect x="202.42" y="437.00" width="4.60" height="6.00" fill="#fff" />
<rect x="204.02" y="445.00" width="1.00" height="4.00" fill="#fff" />
<rect x="208.28" y="437.00" width="4.60" height="6.00" fill="#fff" />
<rect x="209.88" y="445.00" width="1.00" height="4.00" fill="#fff" />
<rect x="214.14" y="437.00" width="4.60" height="6.00" fill="#fff" />
<rect x="215.74" y="445.00" width="1.00" height="4.00" fill="#fff" />
<rect x="220.00" y="437.00" width="4.60" height="6.00" fill="#fff" />
<rect x="221.60" y="445.00" width="1.00" height="4.00" fill="#fff" />
<rect x="225.86" y="437.00" width="4.60" height="6.00" fill="#fff" />
<rect x="227.46" y="445.00" width="1.00" height="4.00" fill="#fff" />
<rect x="231.72" y="437.00" width="4.60" height="6.00" fill="#fff" />
<rect x="233.32" y="445.00" width="1.00" height="4.00" fill="#fff" />
<rect x="237.58" y="437.00" width="4.60" height="6.00" fill="#fff" />
<rect x="239.18" y="445.00" width="1.00" height="4.00" fill="#fff" />
<rect x="243.44" y="437.00" width="4.60" height="6.00" fill="#fff" />
<rect x="245.04" y="445.00" width="1.00" height="4.00" fill="#fff" />
<rect x="249.30" y="437.00" width="4.60" height="6.00" fill="#fff" />
<rect x="250.90" y="445.00" width="1.00" height="4.00" fill="#fff" />
<rect x="255.16" y="437.00" width="4.60" height="6.00" fill="#fff" />
<rect x="256.76" y="445.00" width="1.00" height="4.00" fill="#fff" />
<rect x="261.02" y="437.00" width="4.60" height="6.00" fill="#fff" />
<rect x="262.62" y="445.00" width="1.00" height="4.00" fill="#fff" />
<rect x="266.88" y="437.00" width="4.60" height="6.00" fill="#fff" />
<rect x="268.48" y="445.00" width="1.00" height="4.00" fill="#fff" />
<rect x="272.74" y="437.00" width="4.60" height="6.00" fill="#fff" />
<rect x="274.34" y="445.00" width="1.00" height="4.00" fill="#fff" />
<rect x="278.60" y="437.00" width="4.60" height="6.00" fill="#fff" />
<rect x="280.20" y="445.00" width="1.00" height="4.00" fill="#fff" />
<rect x="284.46" y="437.00" width="4.60" height="6.00" fill="#fff" />
<rect x="286.06" y="445.00" width="1.00" height="4.00" fill="#fff" />
<rect x="290.32" y="437.00" width="4.60" height="6.00" fill="#fff" />
<rect x="291.92" y="445.00" width="1.00" height="4.00" fill="#fff" />
<rect x="296.18" y="437.00" width="4.60" height="6.00" fill="#fff" />
<rect x="297.78" y="445.00" width="1.00" height="4.00" fill="#fff" />
<rect x="302.04" y="437.00" width="4.60" height="6.00" fill="#fff" />
<rect x="303.64" y="445.00" width="1.00" height="4.00" fill="#fff" />
<rect x="307.90" y="437.00" width="4.60" height="6.00" fill="#fff" />
<rect x="309.50" y="445.00" width="1.00" height="4.00" fill="#fff" />
<rect x="313.76" y="437.00" width="4.60" height="6.00" fill="#fff" />
<rect x="315.36" y="445.00" width="1.00" height="4.00" fill="#fff" />
<rect x="319.62" y="437.00" width="4.60" height="6.00" fill="#fff" />
<rect x="321.22" y="445.00" width="1.00" height="4.00" fill="#fff" />
<rect x="325.48" y="437.00" width="4.60" height="6.00" fill="#fff" />
<rect x="327.08" y="445.00" width="1.00" height="4.00" fill="#fff" />
<rect x="331.34" y="437.00" width="4.60" height="6.00" fill="#fff" />
<rect x="332.94" y="445.00" width="1.00" height="4.00" fill="#fff" />
<rect x="337.20" y="437.00" width="4.60" height="6.00" fill="#fff" />
<rect x="338.80" y="445.00" width="1.00" height="4.00" fill="#fff" />
<rect x="343.06" y="437.00" width="4.60" height="6.00" fill="#fff" />
<rect x="344.66" y="445.00" width="1.00" height="4.00" fill="#fff" />
<rect x="348.92" y="437.00" width="4.60" height="6.00" fill="#fff" />
<rect x="350.52" y="445.00" width="1.00" height="4.00" fill="#fff" />
<rect x="354.78" y="437.00" width="4.60" height="6.00" fill="#fff" />
<rect x="356.38" y="445.00" width="1.00" height="4.00" fill="#fff" />
<rect x="161.5" y="455.5" width="227" height="18" rx="0" fill="#fff" stroke="#000" stroke-width="1"/>
<rect x="161" y="459" width="9" height="1" fill="#000" />
<rect x="161" y="466" width="9" height="1" fill="#000" />
<rect x="169" y="455" width="1" height="19" fill="#000" />
<rect x="171" y="457" width="3" height="17" fill="#000" />
<polyline points="174,459.5 182.5,459.5 182.5,468.5 180.5,468.5 180.5,466.5 175.5,466.5 175.5,468.5 174,468.5" fill="none" stroke="#000" stroke-width="1"/>
<rect x="180" y="468" width="1" height="6" fill="#000" />
<rect x="380" y="459" width="9" height="1" fill="#000" />
<rect x="380" y="466" width="9" height="1" fill="#000" />
<rect x="379" y="455" width="1" height="19" fill="#000" />
<rect x="376" y="457" width="2" height="17" fill="#000" />
<polyline points="376,459.5 367.5,459.5 367.5,468.5 369.5,468.5 369.5,466.5 374.5,466.5 374.5,468.5 376,468.5" fill="none" stroke="#000" stroke-width="1"/>
<rect x="369" y="468" width="1" height="6" fill="#000" />
<rect x="187" y="458" width="175" height="14" fill="#000" />
<rect x="188" y="459" width="1" height="6" fill="#fff" />
<rect x="190.70" y="459.00" width="4.60" height="6.00" fill="#fff" />
<rect x="192.30" y="467.00" width="1.00" height="4.00" fill="#fff" />
<rect x="196.56" y="459.00" width="4.60" height="6.00" fill="#fff" />
<rect x="198.16" y="467.00" width="1.00" height="4.00" fill="#fff" />
<rect x="202.42" y="459.00" width="4.60" height="6.00" fill="#fff" />
<rect x="204.02" y="467.00" width="1.00" height="4.00" fill="#fff" />
<rect x="208.28" y="459.00" width="4.60" height="6.00" fill="#fff" />
<rect x="209.88" y="467.00" width="1.00" height="4.00" fill="#fff" />
<rect x="214.14" y="459.00" width="4.60" height="6.00" fill="#fff" />
<rect x="215.74" y="467.00" width="1.00" height="4.00" fill="#fff" />
<rect x="220.00" y="459.00" width="4.60" height="6.00" fill="#fff" />
<rect x="221.60" y="467.00" width="1.00" height="4.00" fill="#fff" />
<rect x="225.86" y="459.00" width="4.60" height="6.00" fill="#fff" />
<rect x="227.46" y="467.00" width="1.00" height="4.00" fill="#fff" />
<rect x="231.72" y="459.00" width="4.60" height="6.00" fill="#fff" />
<rect x="233.32" y="467.00" width="1.00" height="4.00" fill="#fff" />
<rect x="237.58" y="459.00" width="4.60" height="6.00" fill="#fff" />
<rect x="239.18" y="467.00" width="1.00" height="4.00" fill="#fff" />
<rect x="243.44" y="459.00" width="4.60" height="6.00" fill="#fff" />
<rect x="245.04" y="467.00" width="1.00" height="4.00" fill="#fff" />
<rect x="249.30" y="459.00" width="4.60" height="6.00" fill="#fff" />
<rect x="250.90" y="467.00" width="1.00" height="4.00" fill="#fff" />
<rect x="255.16" y="459.00" width="4.60" height="6.00" fill="#fff" />
<rect x="256.76" y="467.00" width="1.00" height="4.00" fill="#fff" />
<rect x="261.02" y="459.00" width="4.60" height="6.00" fill="#fff" />
<rect x="262.62" y="467.00" width="1.00" height="4.00" fill="#fff" />
<rect x="266.88" y="459.00" width="4.60" height="6.00" fill="#fff" />
<rect x="268.48" y="467.00" width="1.00" height="4.00" fill="#fff" />
<rect x="272.74" y="459.00" width="4.60" height="6.00" fill="#fff" />
<rect x="274.34" y="467.00" width="1.00" height="4.00" fill="#fff" />
<rect x="278.60" y="459.00" width="4.60" height="6.00" fill="#fff" />
<rect x="280.20" y="467.00" width="1.00" height="4.00" fill="#fff" />
<rect x="284.46" y="459.00" width="4.60" height="6.00" fill="#fff" />
<rect x="286.06" y="467.00" width="1.00" height="4.00" fill="#fff" />
<rect x="290.32" y="459.00" width="4.60" height="6.00" fill="#fff" />
<rect x="291.92" y="467.00" width="1.00" height="4.00" fill="#fff" />
<rect x="296.18" y="459.00" width="4.60" height="6.00" fill="#fff" />
<rect x="297.78" y="467.00" width="1.00" height="4.00" fill="#fff" />
<rect x="302.04" y="459.00" width="4.60" height="6.00" fill="#fff" />
<rect x="303.64" y="467.00" width="1.00" height="4.00" fill="#fff" />
<rect x="307.90" y="459.00" width="4.60" height="6.00" fill="#fff" />
<rect x="309.50" y="467.00" width="1.00" height="4.00" fill="#fff" />
<rect x="313.76" y="459.00" width="4.60" height="6.00" fill="#fff" />
<rect x="315.36" y="467.00" width="1.00" height="4.00" fill="#fff" />
<rect x="319.62" y="459.00" width="4.60" height="6.00" fill="#fff" />
<rect x="321.22" y="467.00" width="1.00" height="4.00" fill="#fff" />
<rect x="325.48" y="459.00" width="4.60" height="6.00" fill="#fff" />
<rect x="327.08" y="467.00" width="1.00" height="4.00" fill="#fff" />
<rect x="331.34" y="459.00" width="4.60" height="6.00" fill="#fff" />
<rect x="332.94" y="467.00" width="1.00" height="4.00" fill="#fff" />
<rect x="337.20" y="459.00" width="4.60" height="6.00" fill="#fff" />
<rect x="338.80" y="467.00" width="1.00" height="4.00" fill="#fff" />
<rect x="343.06" y="459.00" width="4.60" height="6.00" fill="#fff" />
<rect x="344.66" y="467.00" width="1.00" height="4.00" fill="#fff" />
<rect x="348.92" y="459.00" width="4.60" height="6.00" fill="#fff" />
<rect x="350.52" y="467.00" width="1.00" height="4.00" fill="#fff" />
<rect x="354.78" y="459.00" width="4.60" height="6.00" fill="#fff" />
<rect x="356.38" y="467.00" width="1.00" height="4.00" fill="#fff" />
<rect x="161.5" y="479.5" width="227" height="18" rx="0" fill="#fff" stroke="#000" stroke-width="1"/>
<rect x="161" y="483" width="9" height="1" fill="#000" />
<rect x="161" y="490" width="9" height="1" fill="#000" />
<rect x="169" y="479" width="1" height="19" fill="#000" />
<rect x="171" y="481" width="3" height="17" fill="#000" />
<polyline points="174,483.5 182.5,483.5 182.5,492.5 180.5,492.5 180.5,490.5 175.5,490.5 175.5,492.5 174,492.5" fill="none" stroke="#000" stroke-width="1"/>
<rect x="180" y="492" width="1" height="6" fill="#000" />
<rect x="380" y="483" width="9" height="1" fill="#000" />
<rect x="380" y="490" width="9" height="1" fill="#000" />
<rect x="379" y="479" width="1" height="19" fill="#000" />
<rect x="376" y="481" width="2" height="17" fill="#000" />
<polyline points="376,483.5 367.5,483.5 367.5,492.5 369.5,492.5 369.5,490.5 374.5,490.5 374.5,492.5 376,492.5" fill="none" stroke="#000" stroke-width="1"/>
<rect x="369" y="492" width="1" height="6" fill="#000" />
<rect x="187" y="482" width="175" height="14" fill="#000" />
<rect x="188" y="483" width="1" height="6" fill="#fff" />
<rect x="190.70" y="483.00" width="4.60" height="6.00" fill="#fff" />
<rect x="192.30" y="491.00" width="1.00" height="4.00" fill="#fff" />
<rect x="196.56" y="483.00" width="4.60" height="6.00" fill="#fff" />
<rect x="198.16" y="491.00" width="1.00" height="4.00" fill="#fff" />
<rect x="202.42" y="483.00" width="4.60" height="6.00" fill="#fff" />
<rect x="204.02" y="491.00" width="1.00" height="4.00" fill="#fff" />
<rect x="208.28" y="483.00" width="4.60" height="6.00" fill="#fff" />
<rect x="209.88" y="491.00" width="1.00" height="4.00" fill="#fff" />
<rect x="214.14" y="483.00" width="4.60" height="6.00" fill="#fff" />
<rect x="215.74" y="491.00" width="1.00" height="4.00" fill="#fff" />
<rect x="220.00" y="483.00" width="4.60" height="6.00" fill="#fff" />
<rect x="221.60" y="491.00" width="1.00" height="4.00" fill="#fff" />
<rect x="225.86" y="483.00" width="4.60" height="6.00" fill="#fff" />
<rect x="227.46" y="491.00" width="1.00" height="4.00" fill="#fff" />
<rect x="231.72" y="483.00" width="4.60" height="6.00" fill="#fff" />
<rect x="233.32" y="491.00" width="1.00" height="4.00" fill="#fff" />
<rect x="237.58" y="483.00" width="4.60" height="6.00" fill="#fff" />
<rect x="239.18" y="491.00" width="1.00" height="4.00" fill="#fff" />
<rect x="243.44" y="483.00" width="4.60" height="6.00" fill="#fff" />
<rect x="245.04" y="491.00" width="1.00" height="4.00" fill="#fff" />
<rect x="249.30" y="483.00" width="4.60" height="6.00" fill="#fff" />
<rect x="250.90" y="491.00" width="1.00" height="4.00" fill="#fff" />
<rect x="255.16" y="483.00" width="4.60" height="6.00" fill="#fff" />
<rect x="256.76" y="491.00" width="1.00" height="4.00" fill="#fff" />
<rect x="261.02" y="483.00" width="4.60" height="6.00" fill="#fff" />
<rect x="262.62" y="491.00" width="1.00" height="4.00" fill="#fff" />
<rect x="266.88" y="483.00" width="4.60" height="6.00" fill="#fff" />
<rect x="268.48" y="491.00" width="1.00" height="4.00" fill="#fff" />
<rect x="272.74" y="483.00" width="4.60" height="6.00" fill="#fff" />
<rect x="274.34" y="491.00" width="1.00" height="4.00" fill="#fff" />
<rect x="278.60" y="483.00" width="4.60" height="6.00" fill="#fff" />
<rect x="280.20" y="491.00" width="1.00" height="4.00" fill="#fff" />
<rect x="284.46" y="483.00" width="4.60" height="6.00" fill="#fff" />
<rect x="286.06" y="491.00" width="1.00" height="4.00" fill="#fff" />
<rect x="290.32" y="483.00" width="4.60" height="6.00" fill="#fff" />
<rect x="291.92" y="491.00" width="1.00" height="4.00" fill="#fff" />
<rect x="296.18" y="483.00" width="4.60" height="6.00" fill="#fff" />
<rect x="297.78" y="491.00" width="1.00" height="4.00" fill="#fff" />
<rect x="302.04" y="483.00" width="4.60" height="6.00" fill="#fff" />
<rect x="303.64" y="491.00" width="1.00" height="4.00" fill="#fff" />
<rect x="307.90" y="483.00" width="4.60" height="6.00" fill="#fff" />
<rect x="309.50" y="491.00" width="1.00" height="4.00" fill="#fff" />
<rect x="313.76" y="483.00" width="4.60" height="6.00" fill="#fff" />
<rect x="315.36" y="491.00" width="1.00" height="4.00" fill="#fff" />
<rect x="319.62" y="483.00" width="4.60" height="6.00" fill="#fff" />
<rect x="321.22" y="491.00" width="1.00" height="4.00" fill="#fff" />
<rect x="325.48" y="483.00" width="4.60" height="6.00" fill="#fff" />
<rect x="327.08" y="491.00" width="1.00" height="4.00" fill="#fff" />
<rect x="331.34" y="483.00" width="4.60" height="6.00" fill="#fff" />
<rect x="332.94" y="491.00" width="1.00" height="4.00" fill="#fff" />
<rect x="337.20" y="483.00" width="4.60" height="6.00" fill="#fff" />
<rect x="338.80" y="491.00" width="1.00" height="4.00" fill="#fff" />
<rect x="343.06" y="483.00" width="4.60" height="6.00" fill="#fff" />
<rect x="344.66" y="491.00" width="1.00" height="4.00" fill="#fff" />
<rect x="348.92" y="483.00" width="4.60" height="6.00" fill="#fff" />
<rect x="350.52" y="491.00" width="1.00" height="4.00" fill="#fff" />
<rect x="354.78" y="483.00" width="4.60" height="6.00" fill="#fff" />
<rect x="356.38" y="491.00" width="1.00" height="4.00" fill="#fff" />
<rect x="161.5" y="504.5" width="227" height="18" rx="0" fill="#fff" stroke="#000" stroke-width="1"/>
<rect x="161" y="508" width="9" height="1" fill="#000" />
<rect x="161" y="515" width="9" height="1" fill="#000" />
<rect x="169" y="504" width="1" height="19" fill="#000" />
<rect x="171" y="506" width="3" height="17" fill="#000" />
<polyline points="174,508.5 182.5,508.5 182.5,517.5 180.5,517.5 180.5,515.5 175.5,515.5 175.5,517.5 174,517.5" fill="none" stroke="#000" stroke-width="1"/>
<rect x="180" y="517" width="1" height="6" fill="#000" />
<rect x="380" y="508" width="9" height="1" fill="#000" />
<rect x="380" y="515" width="9" height="1" fill="#000" />
<rect x="379" y="504" width="1" height="19" fill="#000" />
<rect x="376" y="506" width="2" height="17" fill="#000" />
<polyline points="376,508.5 367.5,508.5 367.5,517.5 369.5,517.5 369.5,515.5 374.5,515.5 374.5,517.5 376,517.5" fill="none" stroke="#000" stroke-width="1"/>
<rect x="369" y="517" width="1" height="6" fill="#000" />
<rect x="187" y="507" width="175" height="14" fill="#000" />
<rect x="188" y="508" width="1" height="6" fill="#fff" />
<rect x="190.70" y="508.00" width="4.60" height="6.00" fill="#fff" />
<rect x="192.30" y="516.00" width="1.00" height="4.00" fill="#fff" />
<rect x="196.56" y="508.00" width="4.60" height="6.00" fill="#fff" />
<rect x="198.16" y="516.00" width="1.00" height="4.00" fill="#fff" />
<rect x="202.42" y="508.00" width="4.60" height="6.00" fill="#fff" />
<rect x="204.02" y="516.00" width="1.00" height="4.00" fill="#fff" />
<rect x="208.28" y="508.00" width="4.60" height="6.00" fill="#fff" />
<rect x="209.88" y="516.00" width="1.00" height="4.00" fill="#fff" />
<rect x="214.14" y="508.00" width="4.60" height="6.00" fill="#fff" />
<rect x="215.74" y="516.00" width="1.00" height="4.00" fill="#fff" />
<rect x="220.00" y="508.00" width="4.60" height="6.00" fill="#fff" />
<rect x="221.60" y="516.00" width="1.00" height="4.00" fill="#fff" />
<rect x="225.86" y="508.00" width="4.60" height="6.00" fill="#fff" />
<rect x="227.46" y="516.00" width="1.00" height="4.00" fill="#fff" />
<rect x="231.72" y="508.00" width="4.60" height="6.00" fill="#fff" />
<rect x="233.32" y="516.00" width="1.00" height="4.00" fill="#fff" />
<rect x="237.58" y="508.00" width="4.60" height="6.00" fill="#fff" />
<rect x="239.18" y="516.00" width="1.00" height="4.00" fill="#fff" />
<rect x="243.44" y="508.00" width="4.60" height="6.00" fill="#fff" />
<rect x="245.04" y="516.00" width="1.00" height="4.00" fill="#fff" />
<rect x="249.30" y="508.00" width="4.60" height="6.00" fill="#fff" />
<rect x="250.90" y="516.00" width="1.00" height="4.00" fill="#fff" />
<rect x="255.16" y="508.00" width="4.60" height="6.00" fill="#fff" />
<rect x="256.76" y="516.00" width="1.00" height="4.00" fill="#fff" />
<rect x="261.02" y="508.00" width="4.60" height="6.00" fill="#fff" />
<rect x="262.62" y="516.00" width="1.00" height="4.00" fill="#fff" />
<rect x="266.88" y="508.00" width="4.60" height="6.00" fill="#fff" />
<rect x="268.48" y="516.00" width="1.00" height="4.00" fill="#fff" />
<rect x="272.74" y="508.00" width="4.60" height="6.00" fill="#fff" />
<rect x="274.34" y="516.00" width="1.00" height="4.00" fill="#fff" />
<rect x="278.60" y="508.00" width="4.60" height="6.00" fill="#fff" />
<rect x="280.20" y="516.00" width="1.00" height="4.00" fill="#fff" />
<rect x="284.46" y="508.00" width="4.60" height="6.00" fill="#fff" />
<rect x="286.06" y="516.00" width="1.00" height="4.00" fill="#fff" />
<rect x="290.32" y="508.00" width="4.60" height="6.00" fill="#fff" />
<rect x="291.92" y="516.00" width="1.00" height="4.00" fill="#fff" />
<rect x="296.18" y="508.00" width="4.60" height="6.00" fill="#fff" />
<rect x="297.78" y="516.00" width="1.00" height="4.00" fill="#fff" />
<rect x="302.04" y="508.00" width="4.60" height="6.00" fill="#fff" />
<rect x="303.64" y="516.00" width="1.00" height="4.00" fill="#fff" />
<rect x="307.90" y="508.00" width="4.60" height="6.00" fill="#fff" />
<rect x="309.50" y="516.00" width="1.00" height="4.00" fill="#fff" />
<rect x="313.76" y="508.00" width="4.60" height="6.00" fill="#fff" />
<rect x="315.36" y="516.00" width="1.00" height="4.00" fill="#fff" />
<rect x="319.62" y="508.00" width="4.60" height="6.00" fill="#fff" />
<rect x="321.22" y="516.00" width="1.00" height="4.00" fill="#fff" />
<rect x="325.48" y="508.00" width="4.60" height="6.00" fill="#fff" />
<rect x="327.08" y="516.00" width="1.00" height="4.00" fill="#fff" />
<rect x="331.34" y="508.00" width="4.60" height="6.00" fill="#fff" />
<rect x="332.94" y="516.00" width="1.00" height="4.00" fill="#fff" />
<rect x="337.20" y="508.00" width="4.60" height="6.00" fill="#fff" />
<rect x="338.80" y="516.00" width="1.00" height="4.00" fill="#fff" />
<rect x="343.06" y="508.00" width="4.60" height="6.00" fill="#fff" />
<rect x="344.66" y="516.00" width="1.00" height="4.00" fill="#fff" />
<rect x="348.92" y="508.00" width="4.60" height="6.00" fill="#fff" />
<rect x="350.52" y="516.00" width="1.00" height="4.00" fill="#fff" />
<rect x="354.78" y="508.00" width="4.60" height="6.00" fill="#fff" />
<rect x="356.38" y="516.00" width="1.00" height="4.00" fill="#fff" />
<rect x="242" y="445" width="59" height="19" fill="#000" />
<rect x="244" y="447" width="55" height="15" fill="#fff" />
<path d="M248.50,458.50 L248.50,449.50 L252.50,449.50 L253.50,450.50 L253.50,452.50 L252.50,453.50 L248.50,453.50 M252.50,453.50 L253.50,454.50 L253.50,457.50 L252.50,458.50 L248.50,458.50 M257.50,458.50 L259.50,449.50 L260.50,449.50 L262.50,458.50 M258.50,455.50 L261.50,455.50 M267.50,458.50 L267.50,449.50 L272.50,458.50 L272.50,449.50 M276.50,449.50 L276.50,458.50 M281.50,449.50 L276.50,455.50 M278.50,453.50 L281.50,458.50 M291.50,452.50 L293.50,452.50 M293.50,450.50 L293.50,458.50" fill="none" stroke="#000" stroke-width="1" stroke-linecap="square" stroke-linejoin="miter" stroke-miterlimit="1.5" shape-rendering="crispEdges"/>
<rect x="242" y="493" width="59" height="19" fill="#000" />
<rect x="244" y="495" width="55" height="15" fill="#fff" />
<path d="M247.50,505.50 L247.50,496.50 L251.50,496.50 L252.50,497.50 L252.50,499.50 L251.50,500.50 L247.50,500.50 M251.50,500.50 L252.50,501.50 L252.50,504.50 L251.50,505.50 L247.50,505.50 M257.50,505.50 L259.50,496.50 L260.50,496.50 L262.50,505.50 M258.50,502.50 L261.50,502.50 M266.50,505.50 L266.50,496.50 L271.50,505.50 L271.50,496.50 M276.50,496.50 L276.50,505.50 M281.50,496.50 L276.50,502.50 M278.50,500.50 L281.50,505.50 M291.50,496.50 L289.50,499.50 L289.50,502.50 L291.50,505.50 L293.50,502.50 L293.50,499.50 L291.50,496.50" fill="none" stroke="#000" stroke-width="1" stroke-linecap="square" stroke-linejoin="miter" stroke-miterlimit="1.5" shape-rendering="crispEdges"/>
<rect x="484" y="457" width="59" height="60" fill="#000" />
<rect x="486" y="454" width="55" height="4" fill="#000" />
<rect x="486" y="516" width="55" height="4" fill="#000" />
<rect x="481" y="459" width="4" height="56" fill="#000" />
<rect x="542" y="459" width="4" height="56" fill="#000" />
<rect x="489" y="454" width="1" height="3" fill="#fff" />
<rect x="489" y="517" width="1" height="3" fill="#fff" />
<rect x="492" y="454" width="1" height="3" fill="#fff" />
<rect x="492" y="517" width="1" height="3" fill="#fff" />
<rect x="496" y="454" width="1" height="3" fill="#fff" />
<rect x="496" y="517" width="1" height="3" fill="#fff" />
<rect x="499" y="454" width="1" height="3" fill="#fff" />
<rect x="499" y="517" width="1" height="3" fill="#fff" />
<rect x="502" y="454" width="1" height="3" fill="#fff" />
<rect x="502" y="517" width="1" height="3" fill="#fff" />
<rect x="505" y="454" width="1" height="3" fill="#fff" />
<rect x="505" y="517" width="1" height="3" fill="#fff" />
<rect x="509" y="454" width="1" height="3" fill="#fff" />
<rect x="509" y="517" width="1" height="3" fill="#fff" />
<rect x="512" y="454" width="1" height="3" fill="#fff" />
<rect x="512" y="517" width="1" height="3" fill="#fff" />
<rect x="515" y="454" width="1" height="3" fill="#fff" />
<rect x="515" y="517" width="1" height="3" fill="#fff" />
<rect x="518" y="454" width="1" height="3" fill="#fff" />
<rect x="518" y="517" width="1" height="3" fill="#fff" />
<rect x="522" y="454" width="1" height="3" fill="#fff" />
<rect x="522" y="517" width="1" height="3" fill="#fff" />
<rect x="525" y="454" width="1" height="3" fill="#fff" />
<rect x="525" y="517" width="1" height="3" fill="#fff" />
<rect x="528" y="454" width="1" height="3" fill="#fff" />
<rect x="528" y="517" width="1" height="3" fill="#fff" />
<rect x="531" y="454" width="1" height="3" fill="#fff" />
<rect x="531" y="517" width="1" height="3" fill="#fff" />
<rect x="535" y="454" width="1" height="3" fill="#fff" />
<rect x="535" y="517" width="1" height="3" fill="#fff" />
<rect x="538" y="454" width="1" height="3" fill="#fff" />
<rect x="538" y="517" width="1" height="3" fill="#fff" />
<rect x="481" y="462" width="3" height="1" fill="#fff" />
<rect x="543" y="462" width="3" height="1" fill="#fff" />
<rect x="481" y="466" width="3" height="1" fill="#fff" />
<rect x="543" y="466" width="3" height="1" fill="#fff" />
<rect x="481" y="469" width="3" height="1" fill="#fff" />
<rect x="543" y="469" width="3" height="1" fill="#fff" />
<rect x="481" y="472" width="3" height="1" fill="#fff" />
<rect x="543" y="472" width="3" height="1" fill="#fff" />
<rect x="481" y="475" width="3" height="1" fill="#fff" />
<rect x="543" y="475" width="3" height="1" fill="#fff" />
<rect x="481" y="479" width="3" height="1" fill="#fff" />
<rect x="543" y="479" width="3" height="1" fill="#fff" />
<rect x="481" y="482" width="3" height="1" fill="#fff" />
<rect x="543" y="482" width="3" height="1" fill="#fff" />
<rect x="481" y="485" width="3" height="1" fill="#fff" />
<rect x="543" y="485" width="3" height="1" fill="#fff" />
<rect x="481" y="489" width="3" height="1" fill="#fff" />
<rect x="543" y="489" width="3" height="1" fill="#fff" />
<rect x="481" y="492" width="3" height="1" fill="#fff" />
<rect x="543" y="492" width="3" height="1" fill="#fff" />
<rect x="481" y="495" width="3" height="1" fill="#fff" />
<rect x="543" y="495" width="3" height="1" fill="#fff" />
<rect x="481" y="499" width="3" height="1" fill="#fff" />
<rect x="543" y="499" width="3" height="1" fill="#fff" />
<rect x="481" y="502" width="3" height="1" fill="#fff" />
<rect x="543" y="502" width="3" height="1" fill="#fff" />
<rect x="481" y="505" width="3" height="1" fill="#fff" />
<rect x="543" y="505" width="3" height="1" fill="#fff" />
<rect x="481" y="508" width="3" height="1" fill="#fff" />
<rect x="543" y="508" width="3" height="1" fill="#fff" />
<rect x="481" y="512" width="3" height="1" fill="#fff" />
<rect x="543" y="512" width="3" height="1" fill="#fff" />
<polygon points="587.00,462.00 620.00,462.00 620.00,464.00 622.00,464.00 622.00,467.00 624.00,467.00 624.00,515.00 622.00,515.00 622.00,517.00 588.00,517.00 588.00,518.00 620.00,518.00 620.00,517.00" fill="#000"/>
<polygon points="587.00,462.00 620.00,462.00 622.00,464.00 624.00,467.00 624.00,515.00 620.00,518.00 588.00,518.00 585.00,516.00 582.00,513.00 582.00,465.00 585.00,464.00" fill="#000"/>
<rect x="596" y="462" width="1" height="2" fill="#fff" />
<rect x="599" y="462" width="1" height="2" fill="#fff" />
<rect x="606" y="462" width="1" height="2" fill="#fff" />
<rect x="609" y="462" width="1" height="2" fill="#fff" />
<rect x="590" y="516" width="1" height="2" fill="#fff" />
<rect x="598" y="516" width="1" height="2" fill="#fff" />
<rect x="601" y="516" width="1" height="2" fill="#fff" />
<rect x="612" y="516" width="1" height="2" fill="#fff" />
<rect x="615" y="516" width="1" height="2" fill="#fff" />
<rect x="582" y="479" width="3" height="1" fill="#fff" />
<rect x="582" y="503" width="3" height="1" fill="#fff" />
<rect x="621" y="469" width="3" height="1" fill="#fff" />
<rect x="621" y="493" width="3" height="1" fill="#fff" />
<rect x="621" y="505" width="3" height="1" fill="#fff" />
<rect x="673.5" y="462.5" width="24" height="110" rx="0" fill="#fff" stroke="#000" stroke-width="1"/>
<rect x="676" y="466" width="5" height="8" fill="#000" />
<rect x="676" y="468" width="1" height="1" fill="#fff" />
<rect x="676" y="471" width="1" height="1" fill="#fff" />
<rect x="683" y="465" width="3" height="7" fill="#000" />
<rect x="687.5" y="467.5" width="6" height="6" rx="0" fill="#fff" stroke="#000" stroke-width="1"/>
<rect x="676" y="477" width="5" height="8" fill="#000" />
<rect x="676" y="479" width="1" height="1" fill="#fff" />
<rect x="676" y="482" width="1" height="1" fill="#fff" />
<rect x="683" y="476" width="3" height="7" fill="#000" />
<rect x="687.5" y="478.5" width="6" height="6" rx="0" fill="#fff" stroke="#000" stroke-width="1"/>
<rect x="676" y="486" width="5" height="8" fill="#000" />
<rect x="676" y="488" width="1" height="1" fill="#fff" />
<rect x="676" y="491" width="1" height="1" fill="#fff" />
<rect x="683" y="485" width="3" height="7" fill="#000" />
<rect x="687.5" y="487.5" width="6" height="6" rx="0" fill="#fff" stroke="#000" stroke-width="1"/>
<rect x="676" y="495" width="5" height="8" fill="#000" />
<rect x="676" y="497" width="1" height="1" fill="#fff" />
<rect x="676" y="500" width="1" height="1" fill="#fff" />
<rect x="683" y="494" width="3" height="7" fill="#000" />
<rect x="687.5" y="496.5" width="6" height="6" rx="0" fill="#fff" stroke="#000" stroke-width="1"/>
<rect x="676" y="504" width="5" height="8" fill="#000" />
<rect x="676" y="506" width="1" height="1" fill="#fff" />
<rect x="676" y="509" width="1" height="1" fill="#fff" />
<rect x="683" y="503" width="3" height="7" fill="#000" />
<rect x="687.5" y="505.5" width="6" height="6" rx="0" fill="#fff" stroke="#000" stroke-width="1"/>
<rect x="676" y="513" width="5" height="8" fill="#000" />
<rect x="676" y="515" width="1" height="1" fill="#fff" />
<rect x="676" y="518" width="1" height="1" fill="#fff" />
<rect x="683" y="512" width="3" height="7" fill="#000" />
<rect x="687.5" y="514.5" width="6" height="6" rx="0" fill="#fff" stroke="#000" stroke-width="1"/>
<rect x="676" y="522" width="5" height="8" fill="#000" />
<rect x="676" y="524" width="1" height="1" fill="#fff" />
<rect x="676" y="527" width="1" height="1" fill="#fff" />
<rect x="683" y="521" width="3" height="7" fill="#000" />
<rect x="687.5" y="523.5" width="6" height="6" rx="0" fill="#fff" stroke="#000" stroke-width="1"/>
<rect x="676" y="531" width="5" height="8" fill="#000" />
<rect x="676" y="533" width="1" height="1" fill="#fff" />
<rect x="676" y="536" width="1" height="1" fill="#fff" />
<rect x="683" y="530" width="3" height="7" fill="#000" />
<rect x="687.5" y="532.5" width="6" height="6" rx="0" fill="#fff" stroke="#000" stroke-width="1"/>
<rect x="676" y="540" width="5" height="8" fill="#000" />
<rect x="676" y="542" width="1" height="1" fill="#fff" />
<rect x="676" y="545" width="1" height="1" fill="#fff" />
<rect x="683" y="539" width="3" height="7" fill="#000" />
<rect x="687.5" y="541.5" width="6" height="6" rx="0" fill="#fff" stroke="#000" stroke-width="1"/>
<rect x="676" y="549" width="5" height="8" fill="#000" />
<rect x="676" y="551" width="1" height="1" fill="#fff" />
<rect x="676" y="554" width="1" height="1" fill="#fff" />
<rect x="683" y="548" width="3" height="7" fill="#000" />
<rect x="687.5" y="550.5" width="6" height="6" rx="0" fill="#fff" stroke="#000" stroke-width="1"/>
<rect x="676" y="558" width="5" height="8" fill="#000" />
<rect x="676" y="560" width="1" height="1" fill="#fff" />
<rect x="676" y="563" width="1" height="1" fill="#fff" />
<rect x="683" y="557" width="3" height="7" fill="#000" />
<rect x="687.5" y="559.5" width="6" height="6" rx="0" fill="#fff" stroke="#000" stroke-width="1"/>
<rect x="676" y="567" width="5" height="4" fill="#000" />
<rect x="683" y="567" width="3" height="4" fill="#000" />
<rect x="689" y="463" width="2" height="1" fill="#fff" />
<rect x="693" y="463" width="2" height="1" fill="#fff" />
<rect x="689" y="571" width="2" height="1" fill="#fff" />
<rect x="693" y="571" width="2" height="1" fill="#fff" />
<rect x="736.5" y="463.5" width="23" height="27" rx="0" fill="#fff" stroke="#000" stroke-width="1"/>
<rect x="759" y="463" width="7" height="28" fill="#000" />
<polygon points="733.00,503.00 752.00,503.00 757.00,497.00 766.00,497.00 766.00,546.00 757.00,546.00 752.00,540.00 733.00,540.00" fill="#000"/>
<rect x="730" y="510" width="3" height="24" fill="#000" />
<rect x="726.5" y="511.5" width="4" height="9" rx="0" fill="#fff" stroke="#000" stroke-width="1"/>
<rect x="726.5" y="522.5" width="4" height="9" rx="0" fill="#fff" stroke="#000" stroke-width="1"/>
<rect x="88" y="17" width="44" height="19" rx="3" fill="#000" shape-rendering="crispEdges"/>
<polygon points="107.05,34.00 114.55,34.00 112.00,53.50 109.60,53.50" fill="#000" shape-rendering="crispEdges"/>
<rect x="90" y="20" width="39" height="14" rx="1" fill="#fff" shape-rendering="crispEdges"/>
<polygon points="109.80,33.00 111.80,33.00 111.30,44.75 110.30,44.75" fill="#fff" shape-rendering="crispEdges"/>
<path d="M97.50,24.50 L97.50,23.50 L96.50,22.50 L94.50,22.50 L93.50,23.50 L92.50,24.50 L92.50,29.50 L93.50,30.50 L94.50,31.50 L96.50,31.50 L97.50,30.50 L97.50,29.50 M102.50,31.50 L102.50,22.50 L107.50,31.50 L107.50,22.50 M111.50,24.50 L112.50,23.50 L114.50,23.50 L115.50,24.50 L115.50,26.50 L111.50,30.50 L111.50,31.50 L115.50,31.50 M121.50,22.50 L119.50,25.50 L119.50,28.50 L121.50,31.50 L123.50,28.50 L123.50,25.50 L121.50,22.50" fill="none" stroke="#000" stroke-width="1" stroke-linecap="square" stroke-linejoin="miter" stroke-miterlimit="1.5" shape-rendering="crispEdges"/>
<rect x="58" y="81" width="42" height="18" rx="3" fill="#000" shape-rendering="crispEdges"/>
<polygon points="92.75,83.00 100.25,83.00 107.50,72.80 105.10,72.80" fill="#000" shape-rendering="crispEdges"/>
<rect x="60" y="84" width="37" height="13" rx="1" fill="#fff" shape-rendering="crispEdges"/>
<polygon points="95.50,84.00 97.50,84.00 101.90,76.90 100.90,76.90" fill="#fff" shape-rendering="crispEdges"/>
<path d="M66.50,87.50 L66.50,86.50 L65.50,85.50 L63.50,85.50 L62.50,86.50 L61.50,87.50 L61.50,92.50 L62.50,93.50 L63.50,94.50 L65.50,94.50 L66.50,93.50 L66.50,92.50 M72.50,94.50 L72.50,85.50 L77.50,94.50 L77.50,85.50 M81.50,88.50 L83.50,88.50 M83.50,86.50 L83.50,94.50 M88.50,86.50 L92.50,86.50 L92.50,87.50 L90.50,91.50 L90.50,94.50" fill="none" stroke="#000" stroke-width="1" stroke-linecap="square" stroke-linejoin="miter" stroke-miterlimit="1.5" shape-rendering="crispEdges"/>
<rect x="195" y="72" width="44" height="18" rx="3" fill="#000" shape-rendering="crispEdges"/>
<polygon points="213.95,74.00 221.45,74.00 218.90,56.00 216.50,56.00" fill="#000" shape-rendering="crispEdges"/>
<rect x="197" y="75" width="39" height="13" rx="1" fill="#fff" shape-rendering="crispEdges"/>
<polygon points="216.70,75.00 218.70,75.00 218.20,64.00 217.20,64.00" fill="#fff" shape-rendering="crispEdges"/>
<path d="M205.50,79.50 L205.50,78.50 L204.50,77.50 L202.50,77.50 L201.50,78.50 L200.50,79.50 L200.50,84.50 L201.50,85.50 L202.50,86.50 L204.50,86.50 L205.50,85.50 L205.50,84.50 M211.50,86.50 L211.50,77.50 L216.50,86.50 L216.50,77.50 M221.50,80.50 L223.50,80.50 M223.50,78.50 L223.50,86.50 M232.50,79.50 L231.50,78.50 L229.50,78.50 L228.50,79.50 L228.50,85.50 L229.50,86.50 L231.50,86.50 L232.50,85.50 L232.50,83.50 L231.50,82.50 L228.50,82.50" fill="none" stroke="#000" stroke-width="1" stroke-linecap="square" stroke-linejoin="miter" stroke-miterlimit="1.5" shape-rendering="crispEdges"/>
<rect x="138" y="94" width="51" height="19" rx="3" fill="#000" shape-rendering="crispEdges"/>
<rect x="140" y="97" width="46" height="14" rx="1" fill="#fff" shape-rendering="crispEdges"/>
<path d="M146.50,100.50 L146.50,99.50 L145.50,98.50 L143.50,98.50 L142.50,99.50 L141.50,100.50 L141.50,105.50 L142.50,106.50 L143.50,107.50 L145.50,107.50 L146.50,106.50 L146.50,105.50 M151.50,107.50 L153.50,98.50 L154.50,98.50 L156.50,107.50 M152.50,104.50 L155.50,104.50 M164.50,100.50 L164.50,99.50 L163.50,98.50 L161.50,98.50 L160.50,99.50 L159.50,100.50 L159.50,105.50 L160.50,106.50 L161.50,107.50 L163.50,107.50 L164.50,106.50 L164.50,105.50 M169.50,98.50 L169.50,107.50 M174.50,98.50 L174.50,107.50 M169.50,102.50 L174.50,102.50 M182.50,98.50 L177.50,98.50 L177.50,107.50 L182.50,107.50 M177.50,102.50 L181.50,102.50" fill="none" stroke="#000" stroke-width="1" stroke-linecap="square" stroke-linejoin="miter" stroke-miterlimit="1.5" shape-rendering="crispEdges"/>
<rect x="281" y="68" width="67" height="19" rx="3" fill="#000" shape-rendering="crispEdges"/>
<polygon points="310.85,85.00 318.35,85.00 316.40,104.30 314.00,104.30" fill="#000" shape-rendering="crispEdges"/>
<rect x="283" y="71" width="62" height="14" rx="1" fill="#fff" shape-rendering="crispEdges"/>
<polygon points="313.60,84.00 315.60,84.00 315.40,95.65 314.40,95.65" fill="#fff" shape-rendering="crispEdges"/>
<path d="M293.50,75.50 L293.50,74.50 L292.50,73.50 L289.50,73.50 L288.50,74.50 L288.50,76.50 L289.50,77.50 L292.50,78.50 L293.50,79.50 L293.50,81.50 L292.50,82.50 L289.50,82.50 L288.50,81.50 L288.50,80.50 M297.50,73.50 L299.50,82.50 L301.50,74.50 L303.50,82.50 L305.50,73.50 M309.50,76.50 L311.50,76.50 M311.50,74.50 L311.50,82.50 M315.50,82.50 L318.50,73.50 M322.50,76.50 L324.50,76.50 M324.50,74.50 L324.50,82.50 M328.50,78.50 L330.50,78.50 M337.50,74.50 L337.50,82.50 M334.50,80.50 L338.50,80.50 M334.50,79.50 L334.50,78.50 L337.50,75.50" fill="none" stroke="#000" stroke-width="1" stroke-linecap="square" stroke-linejoin="miter" stroke-miterlimit="1.5" shape-rendering="crispEdges"/>
<rect x="257" y="133" width="36" height="19" rx="3" fill="#000" shape-rendering="crispEdges"/>
<polygon points="291.00,138.55 291.00,146.05 308.40,144.00 308.40,141.60" fill="#000" shape-rendering="crispEdges"/>
<rect x="259" y="136" width="31" height="14" rx="1" fill="#fff" shape-rendering="crispEdges"/>
<polygon points="290.00,141.30 290.00,143.30 300.70,143.05 300.70,142.05" fill="#fff" shape-rendering="crispEdges"/>
<path d="M266.50,138.50 L266.50,146.50 L265.50,147.50 L264.50,147.50 L263.50,146.50 L263.50,145.50 M272.50,147.50 L272.50,138.50 L275.50,138.50 L276.50,139.50 L276.50,142.50 L275.50,143.50 L272.50,143.50 M285.50,143.50 L282.50,143.50 L281.50,142.50 L281.50,140.50 L282.50,139.50 L284.50,139.50 L285.50,140.50 L285.50,145.50 L283.50,147.50 L282.50,147.50 L281.50,146.50" fill="none" stroke="#000" stroke-width="1" stroke-linecap="square" stroke-linejoin="miter" stroke-miterlimit="1.5" shape-rendering="crispEdges"/>
<rect x="285" y="161" width="41" height="19" rx="3" fill="#000" shape-rendering="crispEdges"/>
<polygon points="287.00,166.75 287.00,174.25 269.70,171.90 269.70,169.50" fill="#000" shape-rendering="crispEdges"/>
<rect x="287" y="164" width="36" height="14" rx="1" fill="#fff" shape-rendering="crispEdges"/>
<polygon points="288.00,169.50 288.00,171.50 277.35,171.10 277.35,170.10" fill="#fff" shape-rendering="crispEdges"/>
<path d="M293.50,166.50 L293.50,174.50 L292.50,175.50 L291.50,175.50 L290.50,174.50 L290.50,173.50 M298.50,175.50 L298.50,166.50 L301.50,166.50 L302.50,167.50 L302.50,170.50 L301.50,171.50 L298.50,171.50 M307.50,169.50 L309.50,169.50 M309.50,167.50 L309.50,175.50 M316.50,166.50 L314.50,169.50 L314.50,172.50 L316.50,175.50 L318.50,172.50 L318.50,169.50 L316.50,166.50" fill="none" stroke="#000" stroke-width="1" stroke-linecap="square" stroke-linejoin="miter" stroke-miterlimit="1.5" shape-rendering="crispEdges"/>
<rect x="3" y="209" width="42" height="19" rx="3" fill="#000" shape-rendering="crispEdges"/>
<polygon points="43.00,214.75 43.00,222.25 59.30,219.50 59.30,217.10" fill="#000" shape-rendering="crispEdges"/>
<rect x="5" y="212" width="37" height="14" rx="1" fill="#fff" shape-rendering="crispEdges"/>
<polygon points="42.00,217.50 42.00,219.50 52.15,218.90 52.15,217.90" fill="#fff" shape-rendering="crispEdges"/>
<path d="M11.50,215.50 L11.50,214.50 L10.50,213.50 L8.50,213.50 L7.50,214.50 L6.50,215.50 L6.50,220.50 L7.50,221.50 L8.50,222.50 L10.50,222.50 L11.50,221.50 L11.50,220.50 M17.50,222.50 L17.50,213.50 L22.50,222.50 L22.50,213.50 M26.50,216.50 L28.50,216.50 M28.50,214.50 L28.50,222.50 M36.50,214.50 L36.50,222.50 M33.50,220.50 L37.50,220.50 M33.50,219.50 L33.50,218.50 L36.50,215.50" fill="none" stroke="#000" stroke-width="1" stroke-linecap="square" stroke-linejoin="miter" stroke-miterlimit="1.5" shape-rendering="crispEdges"/>
<rect x="138" y="212" width="42" height="19" rx="3" fill="#000" shape-rendering="crispEdges"/>
<polygon points="140.00,217.55 140.00,225.05 123.00,222.60 123.00,220.20" fill="#000" shape-rendering="crispEdges"/>
<rect x="140" y="215" width="37" height="14" rx="1" fill="#fff" shape-rendering="crispEdges"/>
<polygon points="141.00,220.30 141.00,222.30 130.50,221.85 130.50,220.85" fill="#fff" shape-rendering="crispEdges"/>
<path d="M147.50,219.50 L147.50,218.50 L146.50,217.50 L144.50,217.50 L143.50,218.50 L142.50,219.50 L142.50,224.50 L143.50,225.50 L144.50,226.50 L146.50,226.50 L147.50,225.50 L147.50,224.50 M153.50,226.50 L153.50,217.50 L158.50,226.50 L158.50,217.50 M162.50,220.50 L164.50,220.50 M164.50,218.50 L164.50,226.50 M169.50,219.50 L170.50,218.50 L172.50,218.50 L173.50,219.50 L173.50,221.50 L172.50,222.50 L170.50,222.50 M172.50,222.50 L173.50,223.50 L173.50,225.50 L172.50,226.50 L170.50,226.50 L169.50,225.50" fill="none" stroke="#000" stroke-width="1" stroke-linecap="square" stroke-linejoin="miter" stroke-miterlimit="1.5" shape-rendering="crispEdges"/>
<rect x="213" y="284" width="37" height="19" rx="3" fill="#000" shape-rendering="crispEdges"/>
<polygon points="215.00,289.75 215.00,297.25 198.00,294.20 198.00,291.80" fill="#000" shape-rendering="crispEdges"/>
<rect x="215" y="287" width="32" height="14" rx="1" fill="#fff" shape-rendering="crispEdges"/>
<polygon points="216.00,292.50 216.00,294.50 205.50,293.75 205.50,292.75" fill="#fff" shape-rendering="crispEdges"/>
<path d="M222.50,288.50 L222.50,296.50 L221.50,297.50 L220.50,297.50 L219.50,296.50 L219.50,295.50 M227.50,297.50 L227.50,288.50 L230.50,288.50 L231.50,289.50 L231.50,292.50 L230.50,293.50 L227.50,293.50 M235.50,289.50 L239.50,289.50 L239.50,290.50 L237.50,294.50 L237.50,297.50" fill="none" stroke="#000" stroke-width="1" stroke-linecap="square" stroke-linejoin="miter" stroke-miterlimit="1.5" shape-rendering="crispEdges"/>
<rect x="169" y="320" width="33" height="18" rx="3" fill="#000" shape-rendering="crispEdges"/>
<polygon points="182.05,322.00 189.55,322.00 186.60,302.50 184.20,302.50" fill="#000" shape-rendering="crispEdges"/>
<rect x="171" y="322" width="28" height="13" rx="1" fill="#fff" shape-rendering="crispEdges"/>
<polygon points="184.80,323.00 186.80,323.00 186.10,311.25 185.10,311.25" fill="#fff" shape-rendering="crispEdges"/>
<path d="M178.50,323.50 L178.50,331.50 L177.50,332.50 L176.50,332.50 L175.50,331.50 L175.50,330.50 M183.50,332.50 L183.50,323.50 L186.50,323.50 L187.50,324.50 L187.50,327.50 L186.50,328.50 L183.50,328.50 M193.50,327.50 L193.50,325.50 L194.50,324.50 L195.50,324.50 L196.50,325.50 L196.50,327.50 L195.50,328.50 L193.50,328.50 L193.50,327.50 M193.50,328.50 L192.50,329.50 L192.50,331.50 L193.50,332.50 L195.50,332.50 L196.50,331.50 L196.50,329.50 L195.50,328.50" fill="none" stroke="#000" stroke-width="1" stroke-linecap="square" stroke-linejoin="miter" stroke-miterlimit="1.5" shape-rendering="crispEdges"/>
<rect x="64" y="417" width="33" height="19" rx="3" fill="#000" shape-rendering="crispEdges"/>
<polygon points="77.75,419.00 85.25,419.00 83.00,400.80 80.60,400.80" fill="#000" shape-rendering="crispEdges"/>
<rect x="66" y="420" width="28" height="14" rx="1" fill="#fff" shape-rendering="crispEdges"/>
<polygon points="80.50,420.00 82.50,420.00 82.15,408.90 81.15,408.90" fill="#fff" shape-rendering="crispEdges"/>
<path d="M72.50,421.50 L72.50,429.50 L71.50,430.50 L70.50,430.50 L69.50,429.50 L69.50,428.50 M77.50,430.50 L77.50,421.50 L80.50,421.50 L81.50,422.50 L81.50,425.50 L80.50,426.50 L77.50,426.50 M90.50,423.50 L89.50,422.50 L87.50,422.50 L86.50,423.50 L86.50,429.50 L87.50,430.50 L89.50,430.50 L90.50,429.50 L90.50,427.50 L89.50,426.50 L86.50,426.50" fill="none" stroke="#000" stroke-width="1" stroke-linecap="square" stroke-linejoin="miter" stroke-miterlimit="1.5" shape-rendering="crispEdges"/>
<rect x="92" y="541" width="41" height="18" rx="3" fill="#000" shape-rendering="crispEdges"/>
<polygon points="131.00,546.45 131.00,553.95 148.00,550.50 148.00,548.10" fill="#000" shape-rendering="crispEdges"/>
<rect x="94" y="544" width="36" height="13" rx="1" fill="#fff" shape-rendering="crispEdges"/>
<polygon points="130.00,549.20 130.00,551.20 140.50,550.25 140.50,549.25" fill="#fff" shape-rendering="crispEdges"/>
<path d="M100.50,547.50 L100.50,546.50 L99.50,545.50 L97.50,545.50 L96.50,546.50 L95.50,547.50 L95.50,552.50 L96.50,553.50 L97.50,554.50 L99.50,554.50 L100.50,553.50 L100.50,552.50 M106.50,554.50 L106.50,545.50 L111.50,554.50 L111.50,545.50 M116.50,548.50 L118.50,548.50 M118.50,546.50 L118.50,554.50 M124.50,549.50 L124.50,547.50 L125.50,546.50 L126.50,546.50 L127.50,547.50 L127.50,549.50 L126.50,550.50 L124.50,550.50 L124.50,549.50 M124.50,550.50 L123.50,551.50 L123.50,553.50 L124.50,554.50 L126.50,554.50 L127.50,553.50 L127.50,551.50 L126.50,550.50" fill="none" stroke="#000" stroke-width="1" stroke-linecap="square" stroke-linejoin="miter" stroke-miterlimit="1.5" shape-rendering="crispEdges"/>
<rect x="176" y="565" width="36" height="18" rx="3" fill="#000" shape-rendering="crispEdges"/>
<polygon points="210.00,570.55 210.00,578.05 228.20,575.20 228.20,572.80" fill="#000" shape-rendering="crispEdges"/>
<rect x="178" y="568" width="31" height="13" rx="1" fill="#fff" shape-rendering="crispEdges"/>
<polygon points="209.00,573.30 209.00,575.30 220.10,574.65 220.10,573.65" fill="#fff" shape-rendering="crispEdges"/>
<path d="M186.50,571.50 L186.50,570.50 L185.50,569.50 L183.50,569.50 L182.50,570.50 L181.50,571.50 L181.50,576.50 L182.50,577.50 L183.50,578.50 L185.50,578.50 L186.50,577.50 L186.50,576.50 M192.50,578.50 L192.50,569.50 L197.50,578.50 L197.50,569.50 M201.50,572.50 L203.50,572.50 M203.50,570.50 L203.50,578.50" fill="none" stroke="#000" stroke-width="1" stroke-linecap="square" stroke-linejoin="miter" stroke-miterlimit="1.5" shape-rendering="crispEdges"/>
<rect x="255" y="536" width="35" height="19" rx="3" fill="#000" shape-rendering="crispEdges"/>
<polygon points="280.75,553.00 288.25,553.00 296.80,561.00 294.40,561.00" fill="#000" shape-rendering="crispEdges"/>
<rect x="257" y="538" width="30" height="14" rx="1" fill="#fff" shape-rendering="crispEdges"/>
<polygon points="283.50,552.00 285.50,552.00 290.55,558.00 289.55,558.00" fill="#fff" shape-rendering="crispEdges"/>
<path d="M264.50,541.50 L264.50,540.50 L263.50,539.50 L261.50,539.50 L260.50,540.50 L259.50,541.50 L259.50,546.50 L260.50,547.50 L261.50,548.50 L263.50,548.50 L264.50,547.50 L264.50,546.50 M270.50,548.50 L270.50,539.50 L275.50,548.50 L275.50,539.50 M283.50,544.50 L280.50,544.50 L279.50,543.50 L279.50,541.50 L280.50,540.50 L282.50,540.50 L283.50,541.50 L283.50,546.50 L281.50,548.50 L280.50,548.50 L279.50,547.50" fill="none" stroke="#000" stroke-width="1" stroke-linecap="square" stroke-linejoin="miter" stroke-miterlimit="1.5" shape-rendering="crispEdges"/>
<rect x="309" y="600" width="34" height="19" rx="3" fill="#000" shape-rendering="crispEdges"/>
<polygon points="321.75,602.00 329.25,602.00 328.20,588.00 325.80,588.00" fill="#000" shape-rendering="crispEdges"/>
<rect x="311" y="602" width="29" height="14" rx="1" fill="#fff" shape-rendering="crispEdges"/>
<polygon points="324.50,603.00 326.50,603.00 326.75,594.00 325.75,594.00" fill="#fff" shape-rendering="crispEdges"/>
<path d="M318.50,605.50 L318.50,604.50 L317.50,603.50 L315.50,603.50 L314.50,604.50 L313.50,605.50 L313.50,610.50 L314.50,611.50 L315.50,612.50 L317.50,612.50 L318.50,611.50 L318.50,610.50 M324.50,612.50 L324.50,603.50 L329.50,612.50 L329.50,603.50 M337.50,605.50 L336.50,604.50 L334.50,604.50 L333.50,605.50 L333.50,611.50 L334.50,612.50 L336.50,612.50 L337.50,611.50 L337.50,609.50 L336.50,608.50 L333.50,608.50" fill="none" stroke="#000" stroke-width="1" stroke-linecap="square" stroke-linejoin="miter" stroke-miterlimit="1.5" shape-rendering="crispEdges"/>
<rect x="417" y="591" width="34" height="19" rx="3" fill="#000" shape-rendering="crispEdges"/>
<polygon points="430.25,593.00 437.75,593.00 435.70,575.00 433.30,575.00" fill="#000" shape-rendering="crispEdges"/>
<rect x="419" y="594" width="29" height="14" rx="1" fill="#fff" shape-rendering="crispEdges"/>
<polygon points="433.00,594.00 435.00,594.00 434.75,583.00 433.75,583.00" fill="#fff" shape-rendering="crispEdges"/>
<path d="M427.50,597.50 L427.50,596.50 L426.50,595.50 L424.50,595.50 L423.50,596.50 L422.50,597.50 L422.50,602.50 L423.50,603.50 L424.50,604.50 L426.50,604.50 L427.50,603.50 L427.50,602.50 M432.50,604.50 L432.50,595.50 L437.50,604.50 L437.50,595.50 M444.50,596.50 L440.50,596.50 L440.50,600.50 L443.50,600.50 L444.50,601.50 L444.50,603.50 L443.50,604.50 L441.50,604.50 L440.50,603.50" fill="none" stroke="#000" stroke-width="1" stroke-linecap="square" stroke-linejoin="miter" stroke-miterlimit="1.5" shape-rendering="crispEdges"/>
<rect x="519" y="591" width="34" height="19" rx="3" fill="#000" shape-rendering="crispEdges"/>
<polygon points="533.25,593.00 540.75,593.00 537.20,575.00 534.80,575.00" fill="#000" shape-rendering="crispEdges"/>
<rect x="521" y="594" width="29" height="14" rx="1" fill="#fff" shape-rendering="crispEdges"/>
<polygon points="536.00,594.00 538.00,594.00 537.00,583.00 536.00,583.00" fill="#fff" shape-rendering="crispEdges"/>
<path d="M528.50,597.50 L528.50,596.50 L527.50,595.50 L525.50,595.50 L524.50,596.50 L523.50,597.50 L523.50,602.50 L524.50,603.50 L525.50,604.50 L527.50,604.50 L528.50,603.50 L528.50,602.50 M533.50,604.50 L533.50,595.50 L538.50,604.50 L538.50,595.50 M544.50,596.50 L544.50,604.50 M541.50,602.50 L545.50,602.50 M541.50,601.50 L541.50,600.50 L544.50,597.50" fill="none" stroke="#000" stroke-width="1" stroke-linecap="square" stroke-linejoin="miter" stroke-miterlimit="1.5" shape-rendering="crispEdges"/>
<rect x="579" y="591" width="34" height="19" rx="3" fill="#000" shape-rendering="crispEdges"/>
<polygon points="592.25,593.00 599.75,593.00 598.20,575.00 595.80,575.00" fill="#000" shape-rendering="crispEdges"/>
<rect x="581" y="594" width="29" height="14" rx="1" fill="#fff" shape-rendering="crispEdges"/>
<polygon points="595.00,594.00 597.00,594.00 597.00,583.00 596.00,583.00" fill="#fff" shape-rendering="crispEdges"/>
<path d="M588.50,597.50 L588.50,596.50 L587.50,595.50 L585.50,595.50 L584.50,596.50 L583.50,597.50 L583.50,602.50 L584.50,603.50 L585.50,604.50 L587.50,604.50 L588.50,603.50 L588.50,602.50 M593.50,604.50 L593.50,595.50 L598.50,604.50 L598.50,595.50 M601.50,597.50 L602.50,596.50 L604.50,596.50 L605.50,597.50 L605.50,599.50 L604.50,600.50 L602.50,600.50 M604.50,600.50 L605.50,601.50 L605.50,603.50 L604.50,604.50 L602.50,604.50 L601.50,603.50" fill="none" stroke="#000" stroke-width="1" stroke-linecap="square" stroke-linejoin="miter" stroke-miterlimit="1.5" shape-rendering="crispEdges"/>
<rect x="621" y="591" width="33" height="19" rx="3" fill="#000" shape-rendering="crispEdges"/>
<polygon points="633.95,593.00 641.45,593.00 639.70,575.00 637.30,575.00" fill="#000" shape-rendering="crispEdges"/>
<rect x="623" y="594" width="28" height="14" rx="1" fill="#fff" shape-rendering="crispEdges"/>
<polygon points="636.70,594.00 638.70,594.00 638.60,583.00 637.60,583.00" fill="#fff" shape-rendering="crispEdges"/>
<path d="M629.50,597.50 L629.50,596.50 L628.50,595.50 L626.50,595.50 L625.50,596.50 L624.50,597.50 L624.50,602.50 L625.50,603.50 L626.50,604.50 L628.50,604.50 L629.50,603.50 L629.50,602.50 M634.50,604.50 L634.50,595.50 L639.50,604.50 L639.50,595.50 M643.50,597.50 L644.50,596.50 L646.50,596.50 L647.50,597.50 L647.50,599.50 L643.50,603.50 L643.50,604.50 L647.50,604.50" fill="none" stroke="#000" stroke-width="1" stroke-linecap="square" stroke-linejoin="miter" stroke-miterlimit="1.5" shape-rendering="crispEdges"/>
<rect x="615" y="431" width="42" height="19" rx="3" fill="#000" shape-rendering="crispEdges"/>
<polygon points="655.00,436.65 655.00,444.15 673.20,441.40 673.20,439.00" fill="#000" shape-rendering="crispEdges"/>
<rect x="617" y="434" width="37" height="14" rx="1" fill="#fff" shape-rendering="crispEdges"/>
<polygon points="654.00,439.40 654.00,441.40 665.10,440.80 665.10,439.80" fill="#fff" shape-rendering="crispEdges"/>
<path d="M625.50,437.50 L625.50,436.50 L624.50,435.50 L622.50,435.50 L621.50,436.50 L620.50,437.50 L620.50,442.50 L621.50,443.50 L622.50,444.50 L624.50,444.50 L625.50,443.50 L625.50,442.50 M630.50,444.50 L630.50,435.50 L635.50,444.50 L635.50,435.50 M640.50,438.50 L642.50,438.50 M642.50,436.50 L642.50,444.50 M650.50,440.50 L647.50,440.50 L646.50,439.50 L646.50,437.50 L647.50,436.50 L649.50,436.50 L650.50,437.50 L650.50,442.50 L648.50,444.50 L647.50,444.50 L646.50,443.50" fill="none" stroke="#000" stroke-width="1" stroke-linecap="square" stroke-linejoin="miter" stroke-miterlimit="1.5" shape-rendering="crispEdges"/>
<rect x="727" y="427" width="44" height="19" rx="3" fill="#000" shape-rendering="crispEdges"/>
<polygon points="745.65,444.00 753.15,444.00 751.40,463.00 749.00,463.00" fill="#000" shape-rendering="crispEdges"/>
<rect x="729" y="430" width="39" height="14" rx="1" fill="#fff" shape-rendering="crispEdges"/>
<polygon points="748.40,443.00 750.40,443.00 750.30,454.50 749.30,454.50" fill="#fff" shape-rendering="crispEdges"/>
<path d="M738.50,433.50 L738.50,432.50 L737.50,431.50 L735.50,431.50 L734.50,432.50 L733.50,433.50 L733.50,438.50 L734.50,439.50 L735.50,440.50 L737.50,440.50 L738.50,439.50 L738.50,438.50 M743.50,440.50 L743.50,431.50 L748.50,440.50 L748.50,431.50 M753.50,433.50 L754.50,432.50 L756.50,432.50 L757.50,433.50 L757.50,435.50 L753.50,439.50 L753.50,440.50 L757.50,440.50 M761.50,434.50 L763.50,434.50 M763.50,432.50 L763.50,440.50" fill="none" stroke="#000" stroke-width="1" stroke-linecap="square" stroke-linejoin="miter" stroke-miterlimit="1.5" shape-rendering="crispEdges"/>
<rect x="557" y="161" width="37" height="19" rx="3" fill="#000" shape-rendering="crispEdges"/>
<polygon points="592.00,166.55 592.00,174.05 609.50,172.00 609.50,169.60" fill="#000" shape-rendering="crispEdges"/>
<rect x="559" y="164" width="32" height="14" rx="1" fill="#fff" shape-rendering="crispEdges"/>
<polygon points="591.00,169.30 591.00,171.30 601.75,171.05 601.75,170.05" fill="#fff" shape-rendering="crispEdges"/>
<path d="M568.50,165.50 L568.50,173.50 L567.50,174.50 L566.50,174.50 L565.50,173.50 L565.50,172.50 M573.50,174.50 L573.50,165.50 L576.50,165.50 L577.50,166.50 L577.50,169.50 L576.50,170.50 L573.50,170.50 M585.50,166.50 L581.50,166.50 L581.50,170.50 L584.50,170.50 L585.50,171.50 L585.50,173.50 L584.50,174.50 L582.50,174.50 L581.50,173.50" fill="none" stroke="#000" stroke-width="1" stroke-linecap="square" stroke-linejoin="miter" stroke-miterlimit="1.5" shape-rendering="crispEdges"/>
<rect x="625" y="194" width="35" height="18" rx="3" fill="#000" shape-rendering="crispEdges"/>
<polygon points="624.75,196.00 632.25,196.00 621.60,187.40 619.20,187.40" fill="#000" shape-rendering="crispEdges"/>
<rect x="627" y="197" width="30" height="13" rx="1" fill="#fff" shape-rendering="crispEdges"/>
<polygon points="627.50,197.00 629.50,197.00 624.95,190.70 623.95,190.70" fill="#fff" shape-rendering="crispEdges"/>
<path d="M634.50,198.50 L634.50,206.50 L633.50,207.50 L632.50,207.50 L631.50,206.50 L631.50,205.50 M639.50,207.50 L639.50,198.50 L642.50,198.50 L643.50,199.50 L643.50,202.50 L642.50,203.50 L639.50,203.50 M651.50,199.50 L651.50,207.50 M648.50,205.50 L652.50,205.50 M648.50,204.50 L648.50,203.50 L651.50,200.50" fill="none" stroke="#000" stroke-width="1" stroke-linecap="square" stroke-linejoin="miter" stroke-miterlimit="1.5" shape-rendering="crispEdges"/>
<rect x="582" y="216" width="43" height="17" rx="3" fill="#000" shape-rendering="crispEdges"/>
<polygon points="600.75,218.00 608.25,218.00 605.70,198.30 603.30,198.30" fill="#000" shape-rendering="crispEdges"/>
<rect x="584" y="219" width="38" height="12" rx="1" fill="#fff" shape-rendering="crispEdges"/>
<polygon points="603.50,219.00 605.50,219.00 605.00,207.15 604.00,207.15" fill="#fff" shape-rendering="crispEdges"/>
<path d="M592.50,220.50 L592.50,228.50 L591.50,229.50 L590.50,229.50 L589.50,228.50 L589.50,227.50 M598.50,229.50 L598.50,220.50 L601.50,220.50 L602.50,221.50 L602.50,224.50 L601.50,225.50 L598.50,225.50 M607.50,223.50 L609.50,223.50 M609.50,221.50 L609.50,229.50 M615.50,223.50 L617.50,223.50 M617.50,221.50 L617.50,229.50" fill="none" stroke="#000" stroke-width="1" stroke-linecap="square" stroke-linejoin="miter" stroke-miterlimit="1.5" shape-rendering="crispEdges"/></svg>
</body></html>
